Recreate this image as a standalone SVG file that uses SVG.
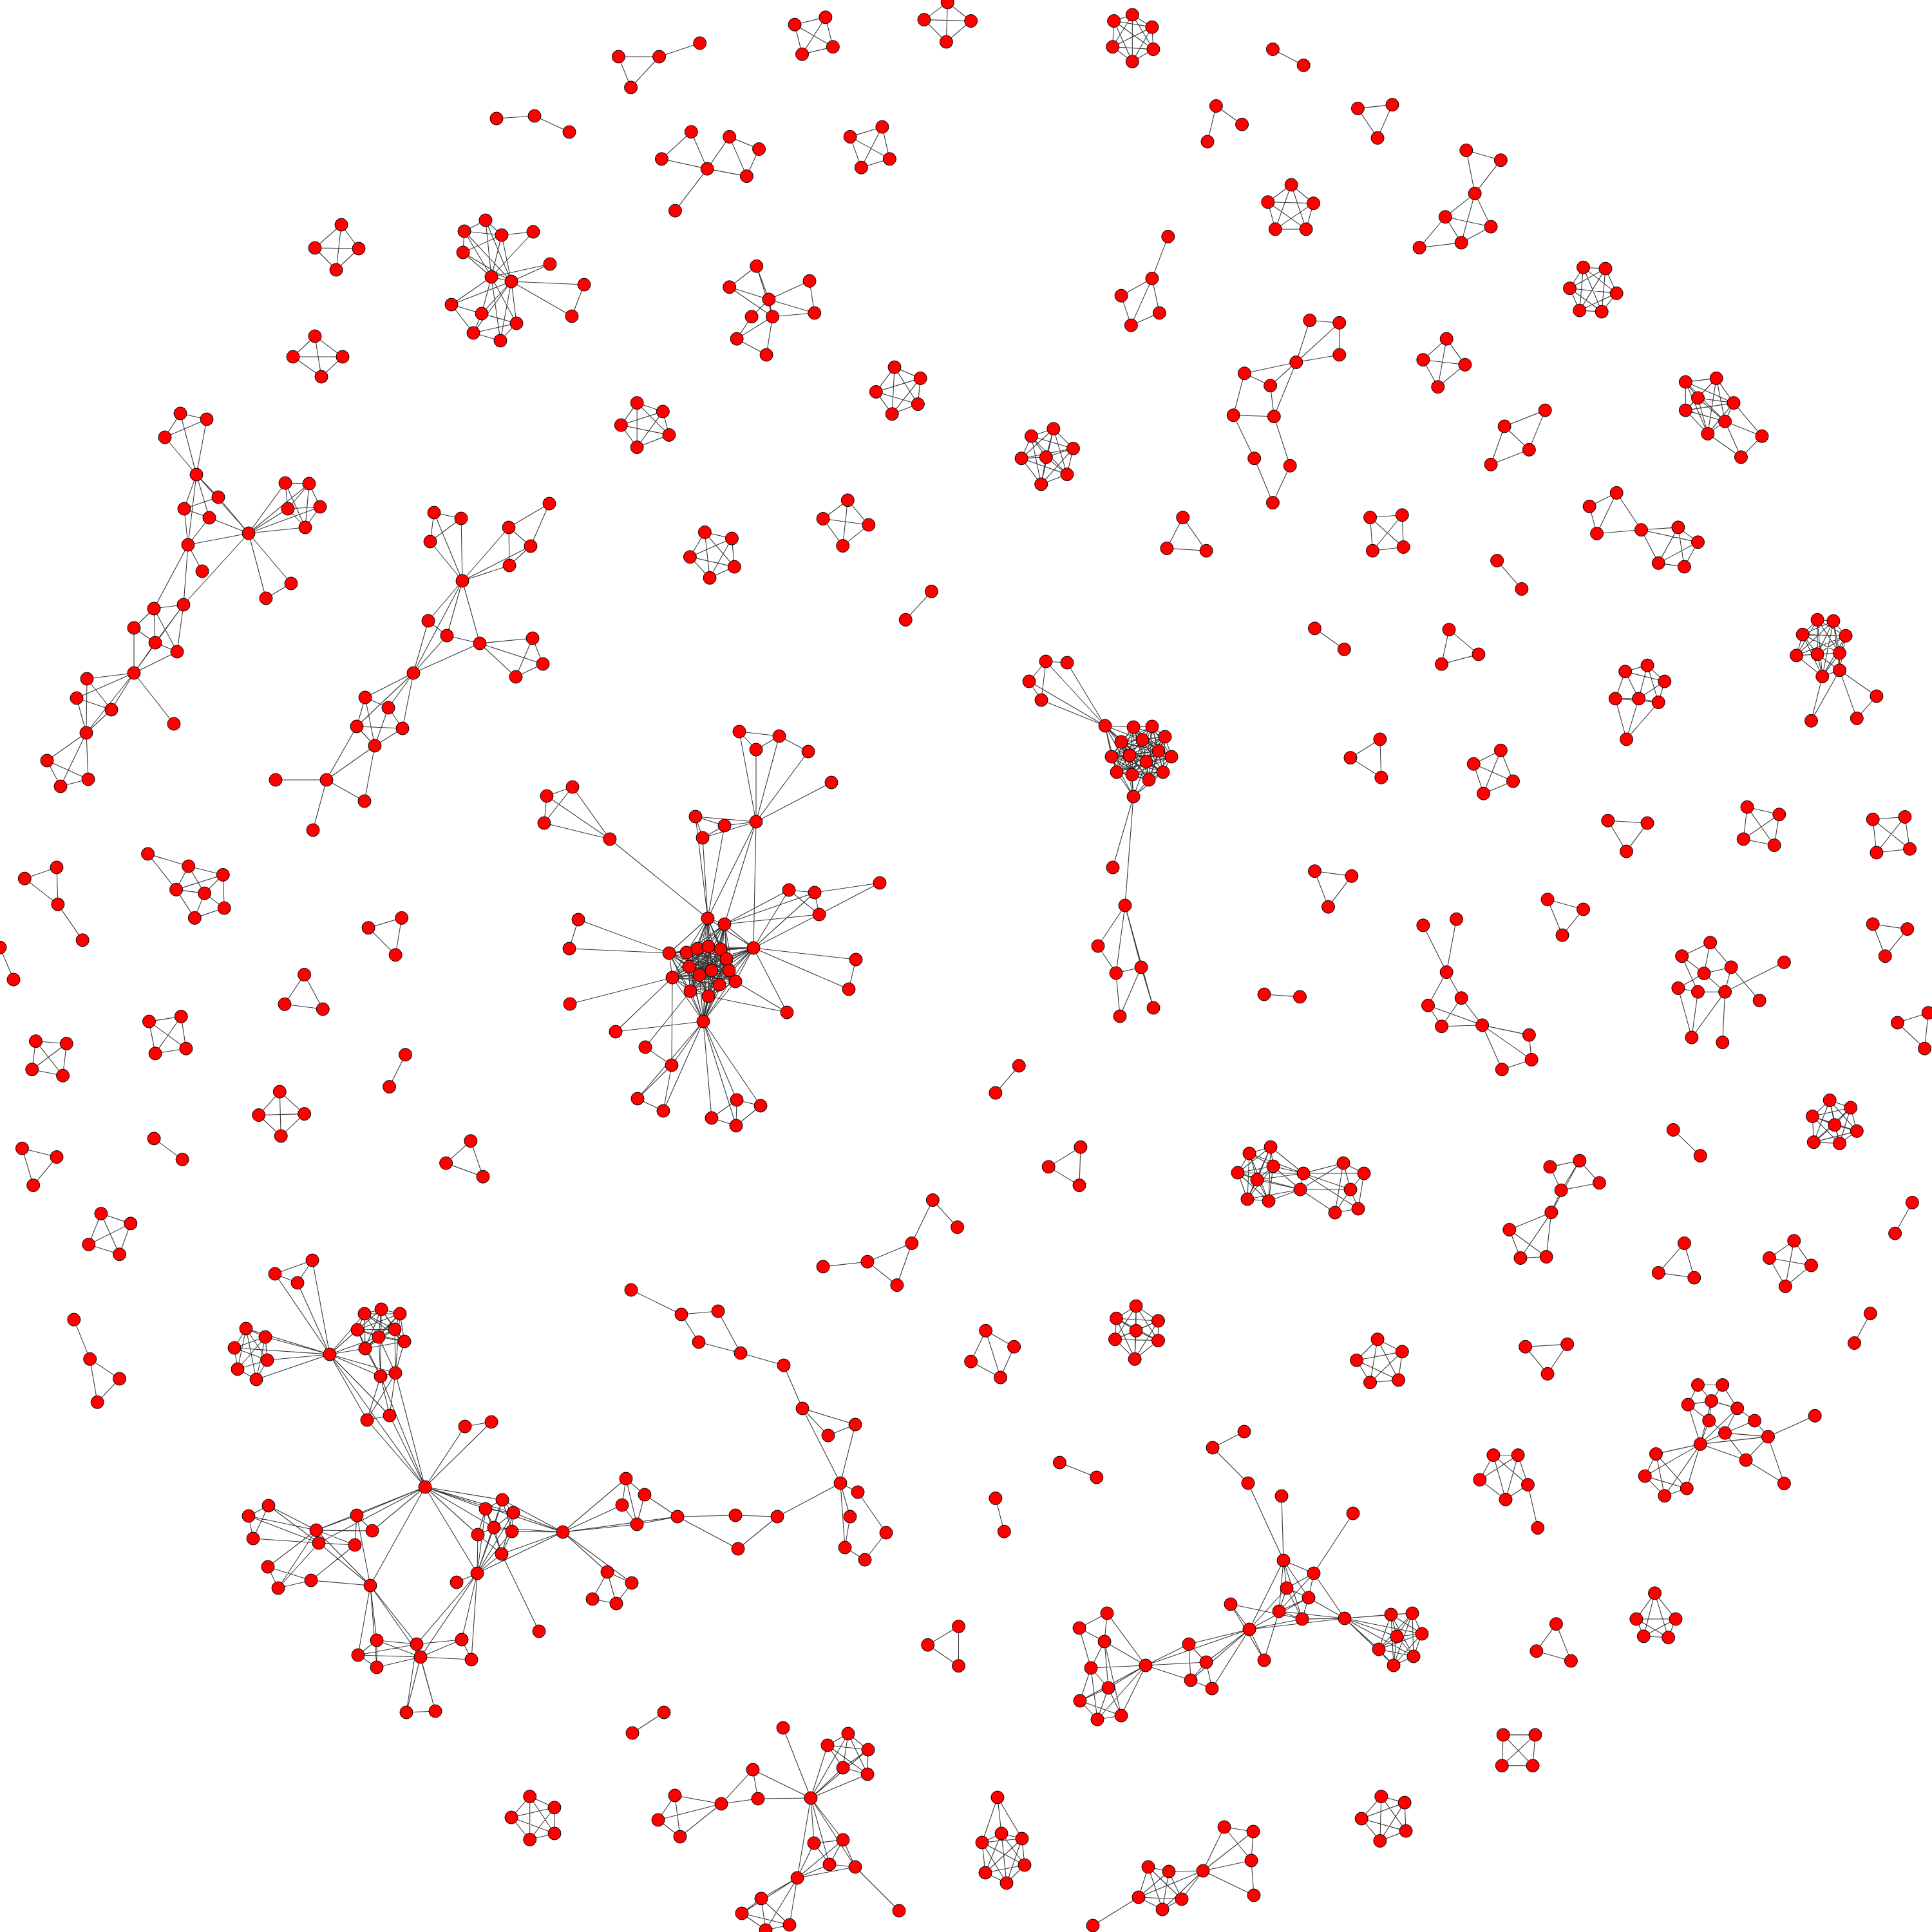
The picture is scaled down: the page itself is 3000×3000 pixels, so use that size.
<svg xmlns="http://www.w3.org/2000/svg" width="3000" height="3000" viewBox="0 0 3000 3000">
<style>
.e path{fill:none;stroke:#3a3a3a;stroke-width:1.1;vector-effect:non-scaling-stroke}
.n circle{fill:#ff0000;stroke:#000;stroke-width:1;vector-effect:non-scaling-stroke}
</style>
<rect width="3000" height="3000" fill="#fff"/>
<g id="connectors" class="e">
<g id="edges-main">
<path d="M754 342L721 359M754 342L779 365M721 359L779 365M721 359L719 392M779 365L719 392M779 365L828 360M754 342L763 430M754 342L794 437M721 359L763 430M721 359L794 437M779 365L763 430M779 365L794 437M719 392L763 430M719 392L794 437M828 360L763 430M854 410L763 430M854 410L794 437M794 437L907 442M794 437L888 491M907 442L888 491M763 430L794 437M701 473L763 430M701 473L794 437M701 473L748 487M701 473L735 517M748 487L763 430M748 487L794 437M748 487L802 502M748 487L735 517M802 502L763 430M802 502L794 437M802 502L735 517M735 517L777 529M777 529L802 502M735 517L794 437M777 529L763 430M777 529L794 437"/>
<path d="M530 349L489 385M530 349L557 386M530 349L522 419M489 385L557 386M489 385L522 419M557 386L522 419M489 522L455 554M489 522L532 554M489 522L499 585M455 554L532 554M455 554L499 585M532 554L499 585M771 184L830 180L884 205"/>
<path d="M280 642L321 651M280 642L256 679M321 651L256 679M280 642L305 737M321 651L305 737M256 679L305 737M305 737L339 772M305 737L286 790M305 737L325 804M305 737L292 846M305 737L386 828M339 772L286 790M286 790L325 804M286 790L292 846M325 804L386 828M339 772L386 828M325 804L292 846M386 828L443 750M386 828L480 751M386 828L447 790M386 828L497 787M386 828L474 819M443 750L480 751M443 750L447 790M443 750L474 819M480 751L447 790M480 751L497 787M480 751L474 819M447 790L497 787M497 787L474 819M447 790L474 819M386 828L292 846M386 828L452 906M386 828L413 929M452 906L413 929M386 828L285 939M292 846L314 887M292 846L285 939M292 846L239 945M285 939L239 945M285 939L241 998M285 939L275 1012M239 945L208 975M239 945L241 998M239 945L275 1012M208 975L241 998M208 975L208 1045M241 998L275 1012M241 998L208 1045M275 1012L208 1045M285 939L208 1045M208 1045L135 1054M208 1045L119 1084M208 1045L173 1102M208 1045L134 1138M208 1045L270 1124M135 1054L173 1102M135 1054L134 1138M119 1084L173 1102M119 1084L134 1138M173 1102L134 1138M134 1138L73 1181M134 1138L137 1210M134 1138L94 1221M73 1181L137 1210M73 1181L94 1221M137 1210L94 1221"/>
<path d="M674 796L716 805M674 796L668 841M716 805L668 841M674 796L718 902M716 805L718 902M668 841L718 902M718 902L790 819M718 902L824 848M718 902L791 878M790 819L853 782M790 819L824 848M790 819L791 878M853 782L824 848M824 848L791 878M718 902L665 964M718 902L694 987M718 902L745 999M718 902L642 1045M665 964L694 987M694 987L745 999M665 964L642 1045M694 987L642 1045M745 999L642 1045M745 999L827 991M745 999L843 1031M745 999L801 1051M827 991L843 1031M843 1031L801 1051M827 991L801 1051M642 1045L567 1083M642 1045L603 1099M642 1045L554 1128M642 1045L625 1131M567 1083L603 1099M567 1083L554 1128M567 1083L582 1158M603 1099L625 1131M603 1099L582 1158M554 1128L625 1131M625 1131L582 1158M554 1128L582 1158M554 1128L507 1211M582 1158L507 1211M582 1158L566 1244M507 1211L428 1211M507 1211L566 1244M507 1211L486 1289"/>
<path d="M1148 1136L1210 1143M1148 1136L1174 1164M1174 1164L1210 1143M1210 1143L1255 1167M1174 1276L1148 1136M1174 1276L1174 1164M1174 1276L1210 1143M1174 1276L1255 1167M1174 1276L1291 1215M1080 1268L1125 1282M1080 1268L1091 1301M1125 1282L1091 1301M1080 1268L1174 1276M1125 1282L1174 1276M1091 1301L1174 1276M889 1222L849 1236M849 1236L845 1278M889 1222L845 1278M889 1222L947 1303M849 1236L947 1303M845 1278L947 1303M947 1303L1099 1426M1080 1268L1099 1426M1091 1301L1099 1426M1125 1282L1099 1426M1174 1276L1099 1426M1174 1276L1125 1435M1174 1276L1170 1472M1099 1426L1125 1435M1099 1426L1170 1472M1125 1435L1170 1472M1125 1435L1225 1382M1125 1435L1265 1386M1125 1435L1272 1420M1170 1472L1225 1382M1170 1472L1265 1386M1170 1472L1272 1420M1225 1382L1265 1386M1225 1382L1272 1420M1265 1386L1272 1420M1265 1386L1366 1371M1272 1420L1366 1371M898 1428L884 1473M898 1428L1039 1480M884 1473L1039 1480M885 1559L1044 1518M1039 1480L1044 1518M1039 1480L1170 1472M1099 1426L1039 1480M1044 1518L1170 1472M1170 1472L1329 1490M1170 1472L1318 1536M1329 1490L1318 1536M1170 1472L1222 1572M1142 1524L1222 1572M1100 1547L1222 1572M1092 1586L956 1602M1044 1518L956 1602M1002 1626L1043 1654M1002 1626L1072 1539M1092 1586L1043 1654M1044 1518L1043 1654M1043 1654L990 1706M1043 1654L1030 1725M990 1706L1030 1725M1092 1586L990 1706M1092 1586L1030 1725M1092 1586L1144 1708M1092 1586L1181 1717M1092 1586L1105 1736M1092 1586L1143 1748M1144 1708L1181 1717M1144 1708L1105 1736M1144 1708L1143 1748M1105 1736L1143 1748M1181 1717L1143 1748M1092 1586L1099 1426M1092 1586L1125 1435M1092 1586L1170 1472M1092 1586L1039 1480M1092 1586L1044 1518"/>
<path d="M1066 1479L1083 1473M1066 1479L1100 1470M1066 1479L1119 1474M1066 1479L1128 1489M1066 1479L1070 1501M1066 1479L1105 1507M1066 1479L1086 1514M1066 1479L1132 1507M1066 1479L1142 1524M1066 1479L1117 1529M1066 1479L1072 1539M1066 1479L1100 1547M1083 1473L1100 1470M1083 1473L1119 1474M1083 1473L1128 1489M1083 1473L1070 1501M1083 1473L1105 1507M1083 1473L1086 1514M1083 1473L1132 1507M1083 1473L1142 1524M1083 1473L1117 1529M1083 1473L1072 1539M1083 1473L1100 1547M1100 1470L1119 1474M1100 1470L1128 1489M1100 1470L1070 1501M1100 1470L1105 1507M1100 1470L1086 1514M1100 1470L1132 1507M1100 1470L1142 1524M1100 1470L1117 1529M1100 1470L1072 1539M1100 1470L1100 1547M1119 1474L1128 1489M1119 1474L1070 1501M1119 1474L1105 1507M1119 1474L1086 1514M1119 1474L1132 1507M1119 1474L1142 1524M1119 1474L1117 1529M1119 1474L1072 1539M1119 1474L1100 1547M1128 1489L1070 1501M1128 1489L1105 1507M1128 1489L1086 1514M1128 1489L1132 1507M1128 1489L1142 1524M1128 1489L1117 1529M1128 1489L1072 1539M1128 1489L1100 1547M1070 1501L1105 1507M1070 1501L1086 1514M1070 1501L1132 1507M1070 1501L1142 1524M1070 1501L1117 1529M1070 1501L1072 1539M1070 1501L1100 1547M1105 1507L1086 1514M1105 1507L1132 1507M1105 1507L1142 1524M1105 1507L1117 1529M1105 1507L1072 1539M1105 1507L1100 1547M1086 1514L1132 1507M1086 1514L1142 1524M1086 1514L1117 1529M1086 1514L1072 1539M1086 1514L1100 1547M1132 1507L1142 1524M1132 1507L1117 1529M1132 1507L1072 1539M1132 1507L1100 1547M1142 1524L1117 1529M1142 1524L1072 1539M1142 1524L1100 1547M1117 1529L1072 1539M1117 1529L1100 1547M1072 1539L1100 1547"/>
<path d="M1099 1426L1066 1479M1099 1426L1083 1473M1099 1426L1100 1470M1099 1426L1119 1474M1099 1426L1128 1489M1099 1426L1070 1501M1099 1426L1105 1507M1099 1426L1086 1514M1099 1426L1132 1507M1099 1426L1142 1524M1099 1426L1117 1529M1099 1426L1072 1539M1099 1426L1100 1547M1125 1435L1066 1479M1125 1435L1083 1473M1125 1435L1100 1470M1125 1435L1119 1474M1125 1435L1128 1489M1125 1435L1070 1501M1125 1435L1105 1507M1125 1435L1086 1514M1125 1435L1132 1507M1125 1435L1142 1524M1125 1435L1117 1529M1125 1435L1072 1539M1125 1435L1100 1547M1170 1472L1066 1479M1170 1472L1083 1473M1170 1472L1100 1470M1170 1472L1119 1474M1170 1472L1128 1489M1170 1472L1070 1501M1170 1472L1105 1507M1170 1472L1086 1514M1170 1472L1132 1507M1170 1472L1142 1524M1170 1472L1117 1529M1170 1472L1072 1539M1170 1472L1100 1547M1039 1480L1066 1479M1039 1480L1083 1473M1039 1480L1100 1470M1039 1480L1119 1474M1039 1480L1128 1489M1039 1480L1070 1501M1039 1480L1105 1507M1039 1480L1086 1514M1039 1480L1132 1507M1039 1480L1142 1524M1039 1480L1117 1529M1039 1480L1072 1539M1039 1480L1100 1547M1044 1518L1066 1479M1044 1518L1083 1473M1044 1518L1100 1470M1044 1518L1119 1474M1044 1518L1128 1489M1044 1518L1070 1501M1044 1518L1105 1507M1044 1518L1086 1514M1044 1518L1132 1507M1044 1518L1142 1524M1044 1518L1117 1529M1044 1518L1072 1539M1044 1518L1100 1547M1092 1586L1066 1479M1092 1586L1083 1473M1092 1586L1100 1470M1092 1586L1119 1474M1092 1586L1128 1489M1092 1586L1070 1501M1092 1586L1105 1507M1092 1586L1086 1514M1092 1586L1132 1507M1092 1586L1142 1524M1092 1586L1117 1529M1092 1586L1072 1539M1092 1586L1100 1547"/>
<path d="M1624 1027L1657 1029M1624 1027L1598 1058M1598 1058L1617 1087M1624 1027L1617 1087M1716 1127L1657 1029M1716 1127L1624 1027M1716 1127L1598 1058M1716 1127L1617 1087M1716 1127L1760 1129M1716 1127L1741 1152M1716 1127L1726 1175M1716 1127L1754 1173M1716 1127L1734 1199M1716 1127L1758 1203M1716 1127L1774 1149M1716 1127L1780 1183M1760 1237L1734 1199M1760 1237L1758 1203M1760 1237L1784 1211M1760 1237L1806 1199M1760 1237L1780 1183M1760 1237L1754 1173M1760 1237L1726 1175M1760 1237L1741 1152M1760 1237L1728 1347M1760 1237L1747 1406M1747 1406L1705 1469M1747 1406L1733 1511M1747 1406L1772 1502M1747 1406L1791 1565M1705 1469L1733 1511M1733 1511L1772 1502M1733 1511L1739 1578M1772 1502L1791 1565M1739 1578L1772 1502"/>
<path d="M1760 1129L1789 1128M1760 1129L1741 1152M1760 1129L1774 1149M1760 1129L1809 1144M1760 1129L1726 1175M1760 1129L1754 1173M1760 1129L1799 1166M1760 1129L1819 1175M1760 1129L1780 1183M1760 1129L1734 1199M1760 1129L1758 1203M1760 1129L1806 1199M1760 1129L1784 1211M1789 1128L1741 1152M1789 1128L1774 1149M1789 1128L1809 1144M1789 1128L1726 1175M1789 1128L1754 1173M1789 1128L1799 1166M1789 1128L1819 1175M1789 1128L1780 1183M1789 1128L1734 1199M1789 1128L1758 1203M1789 1128L1806 1199M1789 1128L1784 1211M1741 1152L1774 1149M1741 1152L1809 1144M1741 1152L1726 1175M1741 1152L1754 1173M1741 1152L1799 1166M1741 1152L1819 1175M1741 1152L1780 1183M1741 1152L1734 1199M1741 1152L1758 1203M1741 1152L1806 1199M1741 1152L1784 1211M1774 1149L1809 1144M1774 1149L1726 1175M1774 1149L1754 1173M1774 1149L1799 1166M1774 1149L1819 1175M1774 1149L1780 1183M1774 1149L1734 1199M1774 1149L1758 1203M1774 1149L1806 1199M1774 1149L1784 1211M1809 1144L1726 1175M1809 1144L1754 1173M1809 1144L1799 1166M1809 1144L1819 1175M1809 1144L1780 1183M1809 1144L1734 1199M1809 1144L1758 1203M1809 1144L1806 1199M1809 1144L1784 1211M1726 1175L1754 1173M1726 1175L1799 1166M1726 1175L1819 1175M1726 1175L1780 1183M1726 1175L1734 1199M1726 1175L1758 1203M1726 1175L1806 1199M1726 1175L1784 1211M1754 1173L1799 1166M1754 1173L1819 1175M1754 1173L1780 1183M1754 1173L1734 1199M1754 1173L1758 1203M1754 1173L1806 1199M1754 1173L1784 1211M1799 1166L1819 1175M1799 1166L1780 1183M1799 1166L1734 1199M1799 1166L1758 1203M1799 1166L1806 1199M1799 1166L1784 1211M1819 1175L1780 1183M1819 1175L1734 1199M1819 1175L1758 1203M1819 1175L1806 1199M1819 1175L1784 1211M1780 1183L1734 1199M1780 1183L1758 1203M1780 1183L1806 1199M1780 1183L1784 1211M1734 1199L1758 1203M1734 1199L1806 1199M1734 1199L1784 1211M1758 1203L1806 1199M1758 1203L1784 1211M1806 1199L1784 1211"/>
<path d="M1973 1781L1940 1791M1973 1781L1977 1811M1973 1781L1922 1821M1973 1781L1952 1832M1973 1781L1937 1862M1973 1781L1970 1865M1940 1791L1977 1811M1940 1791L1922 1821M1940 1791L1952 1832M1940 1791L1937 1862M1940 1791L1970 1865M1977 1811L1922 1821M1977 1811L1952 1832M1977 1811L1937 1862M1977 1811L1970 1865M1922 1821L1952 1832M1922 1821L1937 1862M1922 1821L1970 1865M1952 1832L1937 1862M1952 1832L1970 1865M1937 1862L1970 1865M2024 1822L1973 1781M2024 1822L1940 1791M2024 1822L1977 1811M2024 1822L1922 1821M2024 1822L1952 1832M2019 1847L1977 1811M2019 1847L1922 1821M2019 1847L1952 1832M2019 1847L1937 1862M2019 1847L1970 1865M2024 1822L2019 1847M2024 1822L2086 1806M2024 1822L2118 1822M2024 1822L2097 1847M2019 1847L2097 1847M2019 1847L2086 1806M2019 1847L2073 1883M2024 1822L2109 1877M2086 1806L2118 1822M2086 1806L2097 1847M2086 1806L2073 1883M2118 1822L2097 1847M2118 1822L2109 1877M2097 1847L2073 1883M2097 1847L2109 1877M2073 1883L2109 1877"/>
<path d="M1031 2659L982 2691M1048 2788L1120 2801M1048 2788L1022 2826M1048 2788L1056 2852M1022 2826L1056 2852M1022 2826L1120 2801M1056 2852L1120 2801M1120 2801L1169 2748M1120 2801L1177 2793M1169 2748L1177 2793M1169 2748L1259 2792M1177 2793L1259 2792M1216 2683L1259 2792M1259 2792L1285 2710M1259 2792L1317 2692M1259 2792L1309 2745M1259 2792L1348 2717M1259 2792L1347 2755M1317 2692L1285 2710M1317 2692L1348 2717M1317 2692L1309 2745M1317 2692L1347 2755M1285 2710L1348 2717M1285 2710L1309 2745M1285 2710L1347 2755M1348 2717L1309 2745M1348 2717L1347 2755M1309 2745L1347 2755M1259 2792L1264 2862M1259 2792L1309 2857M1259 2792L1288 2895M1259 2792L1328 2899M1259 2792L1238 2916M1264 2862L1309 2857M1264 2862L1288 2895M1309 2857L1288 2895M1309 2857L1328 2899M1288 2895L1328 2899M1264 2862L1238 2916M1309 2857L1238 2916M1288 2895L1238 2916M1328 2899L1238 2916M1328 2899L1396 2967M1238 2916L1182 2948M1238 2916L1152 2971M1238 2916L1226 2989M1238 2916L1189 2997M1182 2948L1152 2971M1182 2948L1226 2989M1182 2948L1189 2997M1152 2971L1226 2989M1152 2971L1189 2997M1226 2989L1189 2997"/>
<path d="M1549 2791L1525 2861M1549 2791L1555 2847M1549 2791L1587 2855M1525 2861L1555 2847M1525 2861L1587 2855M1525 2861L1530 2908M1525 2861L1591 2896M1525 2861L1563 2924M1555 2847L1587 2855M1555 2847L1530 2908M1555 2847L1591 2896M1555 2847L1563 2924M1587 2855L1530 2908M1587 2855L1591 2896M1587 2855L1563 2924M1530 2908L1591 2896M1530 2908L1563 2924M1591 2896L1563 2924M1783 2899L1815 2906M1783 2899L1768 2946M1783 2899L1805 2965M1783 2899L1835 2949M1815 2906L1868 2905M1815 2906L1768 2946M1815 2906L1805 2965M1815 2906L1835 2949M1768 2946L1835 2949M1768 2946L1805 2965M1768 2946L1868 2905M1835 2949L1805 2965M1835 2949L1868 2905M1805 2965L1868 2905M1768 2946L1697 2990M1868 2905L1901 2837M1868 2905L1946 2844M1868 2905L1943 2889M1868 2905L1947 2943M1901 2837L1946 2844M1901 2837L1943 2889M1946 2844L1943 2889M1943 2889L1947 2943"/>
<path d="M1883 2248L1932 2223M1883 2248L1938 2303M1938 2303L1993 2423M1990 2323L1993 2423M2101 2350L2040 2443M1993 2423L2040 2443M1993 2423L1998 2466M1993 2423L2032 2481M1993 2423L1986 2502M1993 2423L1940 2530M1993 2423L2022 2514M2040 2443L1998 2466M2040 2443L2032 2481M2040 2443L1986 2502M2040 2443L2088 2513M1998 2466L2032 2481M1998 2466L1986 2502M1998 2466L2022 2514M2032 2481L1986 2502M2032 2481L2022 2514M1986 2502L2022 2514M1986 2502L2088 2513M2022 2514L2088 2513M2032 2481L2088 2513M2022 2514L1940 2530M1998 2466L1940 2530M2032 2481L1940 2530M1911 2491L1940 2530M1911 2491L2022 2514M1911 2491L1963 2578M1940 2530L1963 2578M1963 2578L1986 2502M1940 2530L2088 2513M1940 2530L1846 2553M1940 2530L1873 2581M1940 2530L1882 2622M1940 2530L1779 2586M1940 2530L1849 2609M1846 2553L1873 2581M1846 2553L1849 2609M1873 2581L1849 2609M1873 2581L1882 2622M1849 2609L1882 2622M1846 2553L1779 2586M1849 2609L1779 2586M1873 2581L1779 2586M1779 2586L1719 2505M1779 2586L1715 2549M1779 2586L1721 2621M1779 2586L1677 2641M1779 2586L1704 2670M1779 2586L1741 2664M1779 2586L1694 2590M1719 2505L1676 2528M1719 2505L1715 2549M1676 2528L1715 2549M1676 2528L1694 2590M1715 2549L1694 2590M1715 2549L1721 2621M1694 2590L1721 2621M1715 2549L1741 2664M1694 2590L1677 2641M1721 2621L1677 2641M1721 2621L1704 2670M1721 2621L1741 2664M1677 2641L1704 2670M1677 2641L1741 2664M1704 2670L1741 2664M1694 2590L1704 2670M2088 2513L2160 2507M2088 2513L2169 2541M2088 2513L2141 2561M2088 2513L2195 2572M2088 2513L2164 2586M2088 2513L2208 2537M2088 2513L2193 2505M2160 2507L2193 2505M2160 2507L2169 2541M2160 2507L2208 2537M2160 2507L2141 2561M2160 2507L2195 2572M2160 2507L2164 2586M2193 2505L2169 2541M2193 2505L2208 2537M2193 2505L2141 2561M2193 2505L2195 2572M2193 2505L2164 2586M2169 2541L2208 2537M2169 2541L2141 2561M2169 2541L2195 2572M2169 2541L2164 2586M2208 2537L2141 2561M2208 2537L2195 2572M2208 2537L2164 2586M2141 2561L2195 2572M2141 2561L2164 2586M2195 2572L2164 2586"/>
<path d="M485 1957L427 1978M427 1978L462 1992M485 1957L462 1992M485 1957L512 2103M427 1978L512 2103M462 1992L512 2103M382 2063L412 2076M382 2063L364 2093M382 2063L369 2126M382 2063L398 2142M412 2076L364 2093M412 2076L415 2112M412 2076L369 2126M412 2076L398 2142M364 2093L415 2112M364 2093L369 2126M415 2112L369 2126M415 2112L398 2142M369 2126L398 2142M382 2063L415 2112M512 2103L382 2063M512 2103L412 2076M512 2103L364 2093M512 2103L415 2112M512 2103L398 2142M566 2040L592 2033M566 2040L621 2040M566 2040L555 2065M566 2040L613 2064M566 2040L588 2076M566 2040L628 2083M566 2040L567 2094M592 2033L621 2040M592 2033L555 2065M592 2033L613 2064M592 2033L588 2076M592 2033L628 2083M592 2033L567 2094M621 2040L555 2065M621 2040L613 2064M621 2040L588 2076M621 2040L628 2083M621 2040L567 2094M555 2065L613 2064M555 2065L588 2076M555 2065L628 2083M555 2065L567 2094M613 2064L588 2076M613 2064L628 2083M613 2064L567 2094M588 2076L628 2083M588 2076L567 2094M628 2083L567 2094M591 2137L555 2065M591 2137L588 2076M591 2137L567 2094M591 2137L592 2033M614 2132L613 2064M614 2132L628 2083M614 2132L588 2076M614 2132L621 2040M591 2137L614 2132M512 2103L566 2040M512 2103L555 2065M512 2103L567 2094M512 2103L588 2076M512 2103L591 2137M512 2103L614 2132M512 2103L570 2205M512 2103L605 2198M512 2103L660 2309M591 2137L570 2205M614 2132L605 2198M591 2137L605 2198M614 2132L570 2205M570 2205L605 2198M570 2205L660 2309M605 2198L660 2309M591 2137L660 2309M614 2132L660 2309M660 2309L722 2215M660 2309L763 2208M722 2215L763 2208"/>
<path d="M660 2309L780 2329M660 2309L754 2343M660 2309L797 2349M660 2309L767 2372M660 2309L742 2383M660 2309L874 2379M660 2309L741 2443M660 2309L575 2462M660 2309L491 2376M660 2309L554 2353M660 2309L495 2396M660 2309L578 2377M417 2338L386 2354M386 2354L393 2389M417 2338L393 2389M417 2338L491 2376M386 2354L491 2376M386 2354L495 2396M393 2389L495 2396M491 2376L495 2396M491 2376L554 2353M491 2376L578 2377M491 2376L551 2399M495 2396L551 2399M554 2353L578 2377M554 2353L551 2399M416 2433L491 2376M416 2433L432 2466M416 2433L483 2454M483 2454L432 2466M432 2466L491 2376M432 2466L495 2396M483 2454L551 2399M483 2454L575 2462M495 2396L575 2462M491 2376L575 2462M554 2353L575 2462M417 2338L495 2396M575 2462L585 2547M575 2462L556 2570M575 2462L647 2553M575 2462L653 2573M575 2462L585 2589M647 2553L585 2547M647 2553L717 2546M647 2553L556 2570M647 2553L653 2573M585 2547L556 2570M585 2547L585 2589M556 2570L653 2573M556 2570L585 2589M585 2589L653 2573M717 2546L653 2573M653 2573L732 2577M717 2546L732 2577M653 2573L631 2659M653 2573L676 2657M647 2553L631 2659M631 2659L676 2657M585 2547L653 2573M647 2553L676 2657M741 2443L653 2573M741 2443L647 2553M741 2443L717 2546M741 2443L732 2577M741 2443L709 2457M741 2443L780 2329M741 2443L754 2343M741 2443L797 2349M741 2443L767 2372M741 2443L795 2378M741 2443L742 2383M741 2443L779 2413M741 2443L874 2379M780 2329L754 2343M780 2329L797 2349M780 2329L767 2372M780 2329L795 2378M754 2343L797 2349M754 2343L767 2372M754 2343L742 2383M754 2343L779 2413M797 2349L767 2372M797 2349L795 2378M797 2349L779 2413M767 2372L795 2378M767 2372L742 2383M767 2372L779 2413M795 2378L779 2413M742 2383L779 2413M779 2413L837 2533M874 2379L780 2329M874 2379L797 2349M874 2379L767 2372M874 2379L795 2378M874 2379L779 2413M874 2379L972 2296M874 2379L966 2337M874 2379L989 2367M874 2379L1052 2355M972 2296L1001 2321M972 2296L966 2337M966 2337L989 2367M1001 2321L989 2367M972 2296L989 2367M1001 2321L1052 2355M989 2367L1052 2355M874 2379L943 2441M874 2379L981 2458M943 2441L920 2483M943 2441L957 2490M943 2441L981 2458M920 2483L957 2490M957 2490L981 2458M1052 2355L1142 2353M1052 2355L1146 2405M1142 2353L1207 2355M1146 2405L1207 2355M1207 2355L1305 2303M980 2003L1058 2041M1058 2041L1115 2036M1058 2041L1085 2084M1115 2036L1150 2101M1085 2084L1150 2101M1150 2101L1217 2120M1217 2120L1246 2187M1246 2187L1286 2229M1246 2187L1328 2212M1286 2229L1328 2212M1246 2187L1305 2303M1328 2212L1305 2303M1305 2303L1332 2317M1305 2303L1320 2355M1332 2317L1376 2380M1320 2355L1312 2403M1343 2422L1376 2380M1305 2303L1312 2403M1312 2403L1343 2422"/>
</g>
<g id="edges-small" transform="scale(1.91327)">
<path d="M502 46L535 46M502 46L512 71M512 71L535 46M535 46L568 35M645 20L670 14M645 20L676 38M645 20L651 44M670 14L676 38M670 14L651 44M676 38L651 44M750 16L769 2M750 16L788 17M750 16L768 34M769 2L788 17M769 2L768 34M788 17L768 34M904 17L919 12M904 17L935 22M904 17L903 38M904 17L919 50M904 17L936 40M919 12L935 22M919 12L903 38M919 12L919 50M919 12L936 40M935 22L903 38M935 22L919 50M935 22L936 40M903 38L919 50M903 38L936 40M919 50L936 40M1033 40L1058 53M1102 88L1130 85M1102 88L1118 112M1130 85L1118 112M987 86L1008 101M987 86L980 115"/>
<path d="M561 107L537 129M561 107L574 137M592 111L574 137M592 111L616 121M592 111L606 143M537 129L574 137M574 137L606 143M616 121L606 143M574 137L548 171M690 111L716 103M690 111L722 129M690 111L699 136M716 103L722 129M716 103L699 136M722 129L699 136M1048 150L1029 164M1048 150L1066 165M1048 150L1035 186M1048 150L1060 186M1029 164L1066 165M1029 164L1035 186M1029 164L1060 186M1066 165L1035 186M1066 165L1060 186M1035 186L1060 186M1190 122L1218 130M1190 122L1197 157M1218 130L1197 157M1197 157L1173 176M1197 157L1210 184M1197 157L1186 197M1173 176L1186 197M1173 176L1152 201M1210 184L1186 197M1152 201L1186 197M1173 176L1210 184"/>
<path d="M1285 217L1303 218M1285 217L1274 234M1285 217L1312 238M1285 217L1282 252M1285 217L1300 253M1303 218L1274 234M1303 218L1312 238M1303 218L1282 252M1303 218L1300 253M1274 234L1312 238M1274 234L1282 252M1274 234L1300 253M1312 238L1282 252M1312 238L1300 253M1282 252L1300 253M614 216L592 233M614 216L624 243M614 216L627 257M592 233L624 243M592 233L627 257M624 243L657 228M624 243L661 254M657 228L661 254M627 257L661 254M624 243L627 257M627 257L598 275M627 257L622 288M598 275L610 257M610 257L624 243M598 275L622 288M726 298L747 307M726 298L711 318M726 298L745 328M726 298L724 336M747 307L711 318M747 307L745 328M747 307L724 336M711 318L745 328M711 318L724 336M745 328L724 336M517 327L538 334M517 327L504 345M517 327L543 353M517 327L517 363M538 334L504 345M538 334L543 353M538 334L517 363M504 345L543 353M504 345L517 363M543 353L517 363"/>
<path d="M837 354L855 348M837 354L829 372M837 354L849 371M837 354L871 364M837 354L866 385M837 354L845 393M855 348L829 372M855 348L849 371M855 348L871 364M855 348L866 385M855 348L845 393M829 372L849 371M829 372L871 364M829 372L866 385M829 372L845 393M849 371L871 364M849 371L866 385M849 371L845 393M871 364L866 385M871 364L845 393M866 385L845 393M668 421L688 406M668 421L705 426M668 421L684 443M688 406L705 426M688 406L684 443M705 426L684 443M572 432L594 437M572 432L560 452M572 432L596 460M572 432L576 469M594 437L560 452M594 437L596 460M594 437L576 469M560 452L596 460M560 452L576 469M596 460L576 469M948 192L935 226M935 226L910 240M935 226L918 264M935 226L941 254M910 240L918 264M918 264L941 254M1155 292L1174 275M1155 292L1189 296M1155 292L1167 314M1174 275L1189 296M1174 275L1167 314M1189 296L1167 314"/>
<path d="M1063 260L1087 262M1063 260L1052 294M1087 262L1052 294M1087 262L1087 288M1052 294L1087 288M1052 294L1010 303M1052 294L1031 313M1052 294L1034 338M1010 303L1031 313M1010 303L1001 337M1031 313L1034 338M1001 337L1034 338M1001 337L1018 372M1034 338L1047 378M1047 378L1033 408M1018 372L1033 408M1254 333L1221 346M1254 333L1241 365M1221 346L1241 365M1241 365L1210 377M1221 346L1210 377M1368 310L1393 307M1368 310L1378 323M1368 310L1407 327M1368 310L1368 333M1368 310L1400 342M1368 310L1386 352M1393 307L1378 323M1393 307L1407 327M1393 307L1368 333M1393 307L1400 342M1393 307L1386 352M1378 323L1407 327M1378 323L1368 333M1378 323L1400 342M1378 323L1386 352M1407 327L1368 333M1407 327L1400 342M1407 327L1386 352M1368 333L1400 342M1368 333L1386 352M1400 342L1386 352M1430 354L1407 327M1430 354L1400 342M1413 371L1400 342M1413 371L1386 352M1430 354L1413 371M1290 411L1312 400M1312 400L1296 433M1290 411L1296 433M1312 400L1332 430M1296 433L1332 430M1332 430L1362 428M1332 430L1346 457M1332 430L1378 440M1362 428L1378 440M1362 428L1346 457M1362 428L1367 460M1346 457L1367 460M1378 440L1367 460M1346 457L1378 440"/>
<path d="M960 420L947 445M947 445L979 447M960 420L979 447M1112 420L1138 418M1112 420L1114 447M1112 420L1139 444M1138 418L1114 447M1138 418L1139 444M1114 447L1139 444M1215 455L1235 478M1067 510L1091 527M1176 511L1200 531M1176 511L1170 539M1170 539L1200 531M735 503L756 480M1120 600L1096 615M1096 615L1121 631M1120 600L1121 631M1218 609L1196 620M1218 609L1228 634M1218 609L1204 644M1196 620L1204 644M1228 634L1204 644M1196 620L1228 634M1305 666L1337 668M1305 666L1320 691M1337 668L1320 691M1418 655L1444 661M1418 655L1415 681M1418 655L1440 686M1444 661L1415 681M1444 661L1440 686M1415 681L1440 686M1520 665L1546 663M1520 665L1523 692M1520 665L1550 689M1546 663L1523 692M1546 663L1550 689M1523 692L1550 689M1319 545L1337 540M1337 540L1351 553M1319 545L1351 553M1319 545L1311 567M1319 545L1330 567M1337 540L1330 567M1337 540L1346 570M1351 553L1346 570M1351 553L1330 567M1311 567L1330 567M1330 567L1346 570M1311 567L1320 600M1330 567L1320 600M1346 570L1320 600M1311 567L1346 570"/>
<path d="M1463 515L1475 503M1463 515L1488 504M1463 515L1498 516M1463 515L1458 532M1463 515L1475 531M1463 515L1493 530M1463 515L1479 549M1475 503L1488 504M1475 503L1498 516M1475 503L1458 532M1475 503L1475 531M1475 503L1493 530M1475 503L1479 549M1488 504L1498 516M1488 504L1458 532M1488 504L1475 531M1488 504L1493 530M1488 504L1479 549M1498 516L1458 532M1498 516L1475 531M1498 516L1493 530M1498 516L1479 549M1458 532L1475 531M1458 532L1493 530M1458 532L1479 549M1475 531L1493 530M1475 531L1479 549M1493 530L1479 549M1493 544L1498 516M1493 544L1493 530M1493 544L1475 531M1493 544L1479 549M1493 544L1488 504M1493 544L1523 565M1493 544L1470 585M1493 544L1507 583M1479 549L1470 585M1523 565L1507 583M1256 730L1285 738M1256 730L1268 759M1285 738L1268 759M1067 707L1097 711M1067 707L1078 736M1097 711L1078 736M1155 751L1174 789M1182 746L1174 789M1174 789L1159 816M1174 789L1186 810M1159 816L1170 833M1186 810L1170 833M1186 810L1203 832M1170 833L1203 832M1159 816L1203 832M1203 832L1219 868M1203 832L1241 840M1219 868L1243 860M1241 840L1243 860M1203 832L1243 860M1026 807L1055 809"/>
<path d="M1365 776L1388 765M1365 776L1383 790M1388 765L1383 790M1388 765L1405 785M1383 790L1405 785M1362 802L1378 805M1362 802L1383 790M1378 805L1400 805M1383 790L1400 805M1405 785L1400 805M1405 785L1428 812M1400 805L1448 781M1378 805L1373 842M1400 805L1398 846M1362 802L1373 842M1400 805L1373 842M1365 776L1378 805M1520 750L1548 754M1520 750L1530 776M1548 754L1530 776M1540 830L1565 822M1540 830L1562 851M1565 822L1562 851M1471 906L1485 893M1471 906L1502 899M1471 906L1507 918M1471 906L1493 928M1471 906L1472 927M1471 906L1489 913M1485 893L1502 899M1485 893L1507 918M1485 893L1493 928M1485 893L1472 927M1485 893L1489 913M1502 899L1507 918M1502 899L1493 928M1502 899L1472 927M1502 899L1489 913M1507 918L1493 928M1507 918L1472 927M1507 918L1489 913M1493 928L1472 927M1493 928L1489 913M1472 927L1489 913M1358 917L1380 938M1258 947L1282 942M1258 947L1267 966M1282 942L1267 966M1282 942L1298 960M1267 966L1298 960M1267 966L1259 984M1282 942L1259 984M1259 984L1225 998M1259 984L1234 1021M1259 984L1255 1020M1225 998L1234 1021M1225 998L1255 1020M1234 1021L1255 1020M1367 1009L1346 1033M1346 1033L1375 1037M1367 1009L1375 1037M1456 1007L1436 1021M1456 1007L1470 1027M1456 1007L1449 1044M1436 1021L1470 1027M1436 1021L1449 1044M1470 1027L1449 1044M1552 976L1538 1001M1505 1090L1518 1066M1238 1093L1272 1091M1238 1093L1256 1115M1272 1091L1256 1115"/>
<path d="M1118 1087L1101 1104M1118 1087L1138 1097M1118 1087L1112 1122M1118 1087L1135 1120M1101 1104L1138 1097M1101 1104L1112 1122M1101 1104L1135 1120M1138 1097L1112 1122M1138 1097L1135 1120M1112 1122L1135 1120M1378 1124L1398 1124M1378 1124L1370 1140M1378 1124L1389 1137M1398 1124L1389 1137M1398 1124L1410 1143M1370 1140L1389 1137M1370 1140L1387 1153M1389 1137L1387 1153M1389 1137L1410 1143M1410 1143L1424 1153M1410 1143L1400 1163M1387 1153L1400 1163M1424 1153L1400 1163M1424 1153L1435 1166M1400 1163L1435 1166M1380 1172L1370 1140M1380 1172L1389 1137M1380 1172L1387 1153M1380 1172L1400 1163M1380 1172L1410 1143M1380 1172L1435 1166M1380 1172L1417 1185M1435 1166L1473 1149M1435 1166L1417 1185M1435 1166L1448 1204M1417 1185L1448 1204M1400 1163L1417 1185M1380 1172L1344 1180M1380 1172L1335 1198M1380 1172L1351 1214M1380 1172L1369 1208M1344 1180L1335 1198M1344 1180L1351 1214M1335 1198L1351 1214M1335 1198L1369 1208M1351 1214L1369 1208M1344 1180L1369 1208M1212 1181L1232 1181M1212 1181L1201 1201M1212 1181L1222 1217M1232 1181L1240 1205M1232 1181L1222 1217M1201 1201L1222 1217M1240 1205L1222 1217M1240 1205L1248 1240M1212 1181L1240 1205M1201 1201L1232 1181M1343 1293L1328 1314M1343 1293L1360 1314M1343 1293L1334 1328M1343 1293L1354 1329M1328 1314L1360 1314M1328 1314L1334 1328M1328 1314L1354 1329M1360 1314L1334 1328M1360 1314L1354 1329M1334 1328L1354 1329M1263 1318L1247 1340M1247 1340L1275 1348M1263 1318L1275 1348M1220 1408L1246 1408M1220 1408L1219 1433M1220 1408L1244 1433M1246 1408L1219 1433M1246 1408L1244 1433M1219 1433L1244 1433"/>
<path d="M1121 1458L1140 1463M1121 1458L1105 1476M1121 1458L1141 1486M1121 1458L1120 1494M1140 1463L1105 1476M1140 1463L1141 1486M1140 1463L1120 1494M1105 1476L1141 1486M1105 1476L1120 1494M1141 1486L1120 1494M430 1458L415 1475M430 1458L450 1467M430 1458L430 1493M430 1458L450 1488M415 1475L450 1467M415 1475L430 1493M415 1475L450 1488M450 1467L430 1493M450 1467L450 1488M430 1493L450 1488M860 1187L890 1199M808 1216L815 1243M753 1335L778 1320M753 1335L778 1352M778 1320L778 1352M800 1080L823 1093M800 1080L788 1105M800 1080L812 1118M823 1093L812 1118M788 1105L812 1118M922 1060L906 1070M922 1060L940 1072M922 1060L905 1087M922 1060L940 1088M922 1060L921 1103M922 1060L922 1080M906 1070L940 1072M906 1070L905 1087M906 1070L940 1088M906 1070L921 1103M906 1070L922 1080M940 1072L905 1087M940 1072L940 1088M940 1072L921 1103M940 1072L922 1080M905 1087L940 1088M905 1087L921 1103M905 1087L922 1080M940 1088L921 1103M940 1088L922 1080M921 1103L922 1080M877 931L851 947M851 947L876 962M877 931L876 962M808 887L827 865M757 974L777 996M757 974L740 1009M740 1009L704 1024M740 1009L728 1043M704 1024L668 1028M704 1024L728 1043"/>
<path d="M60 1071L73 1103M73 1103L97 1119M73 1103L79 1138M97 1119L79 1138M82 985L106 993M82 985L72 1010M82 985L97 1018M106 993L72 1010M106 993L97 1018M72 1010L97 1018M18 932L46 939M18 932L27 962M46 939L27 962M125 924L148 941M227 886L210 905M227 886L247 904M227 886L228 922M210 905L228 922M247 904L228 922M210 905L247 904M382 926L362 944M362 944L392 955M382 926L392 955M329 856L316 882M121 829L147 825M121 829L126 855M147 825L151 851M126 855L151 851M121 829L151 851M147 825L126 855M29 845L54 847M29 845L26 868M29 845L51 873M54 847L26 868M54 847L51 873M26 868L51 873M0 769L11 795M20 713L46 704M20 713L47 734M46 704L47 734M47 734L67 763M120 693L143 722M120 693L153 703M153 703L143 722M153 703L166 725M153 703L181 710M143 722L166 725M143 722L158 745M166 725L181 710M166 725L158 745M166 725L182 737M181 710L182 737M158 745L182 737M143 722L181 710M299 753L326 745M299 753L321 775M326 745L321 775M247 791L231 815M231 815L262 819M247 791L262 819"/>
</g>
</g>
<g id="nodes" class="n">
<g id="nodes-main">
<g id="tl1"><circle cx="754" cy="342" r="10"/></g><g id="tl2"><circle cx="721" cy="359" r="10"/></g><g id="tl3"><circle cx="779" cy="365" r="10"/></g><g id="tl4"><circle cx="828" cy="360" r="10"/></g><g id="tl5"><circle cx="719" cy="392" r="10"/></g><g id="tl6"><circle cx="763" cy="430" r="10"/></g><g id="tl7"><circle cx="794" cy="437" r="10"/></g><g id="tl8"><circle cx="854" cy="410" r="10"/></g><g id="tl9"><circle cx="907" cy="442" r="10"/></g><g id="tl10"><circle cx="888" cy="491" r="10"/></g><g id="tl11"><circle cx="701" cy="473" r="10"/></g><g id="tl12"><circle cx="748" cy="487" r="10"/></g><g id="tl13"><circle cx="802" cy="502" r="10"/></g><g id="tl14"><circle cx="735" cy="517" r="10"/></g><g id="tl15"><circle cx="777" cy="529" r="10"/></g>
<g id="ka1"><circle cx="530" cy="349" r="10"/></g><g id="ka2"><circle cx="489" cy="385" r="10"/></g><g id="ka3"><circle cx="557" cy="386" r="10"/></g><g id="ka4"><circle cx="522" cy="419" r="10"/></g>
<g id="kb1"><circle cx="489" cy="522" r="10"/></g><g id="kb2"><circle cx="455" cy="554" r="10"/></g><g id="kb3"><circle cx="532" cy="554" r="10"/></g><g id="kb4"><circle cx="499" cy="585" r="10"/></g>
<g id="pa1"><circle cx="771" cy="184" r="10"/></g><g id="pa2"><circle cx="830" cy="180" r="10"/></g><g id="pa3"><circle cx="884" cy="205" r="10"/></g>
<g id="lc1"><circle cx="280" cy="642" r="10"/></g><g id="lc2"><circle cx="321" cy="651" r="10"/></g><g id="lc3"><circle cx="256" cy="679" r="10"/></g><g id="lc4"><circle cx="305" cy="737" r="10"/></g><g id="lc5"><circle cx="339" cy="772" r="10"/></g><g id="lc6"><circle cx="286" cy="790" r="10"/></g><g id="lc7"><circle cx="325" cy="804" r="10"/></g><g id="lc8"><circle cx="386" cy="828" r="10"/></g><g id="lc9"><circle cx="443" cy="750" r="10"/></g><g id="lc10"><circle cx="480" cy="751" r="10"/></g><g id="lc11"><circle cx="447" cy="790" r="10"/></g><g id="lc12"><circle cx="497" cy="787" r="10"/></g><g id="lc13"><circle cx="474" cy="819" r="10"/></g><g id="lc14"><circle cx="292" cy="846" r="10"/></g><g id="lc15"><circle cx="314" cy="887" r="10"/></g><g id="lc16"><circle cx="452" cy="906" r="10"/></g><g id="lc17"><circle cx="413" cy="929" r="10"/></g><g id="lc18"><circle cx="285" cy="939" r="10"/></g><g id="lc19"><circle cx="239" cy="945" r="10"/></g><g id="lc20"><circle cx="208" cy="975" r="10"/></g><g id="lc21"><circle cx="241" cy="998" r="10"/></g><g id="lc22"><circle cx="275" cy="1012" r="10"/></g><g id="lc23"><circle cx="208" cy="1045" r="10"/></g><g id="lc24"><circle cx="135" cy="1054" r="10"/></g><g id="lc25"><circle cx="119" cy="1084" r="10"/></g><g id="lc26"><circle cx="173" cy="1102" r="10"/></g><g id="lc27"><circle cx="134" cy="1138" r="10"/></g><g id="lc28"><circle cx="270" cy="1124" r="10"/></g><g id="lc29"><circle cx="73" cy="1181" r="10"/></g><g id="lc30"><circle cx="137" cy="1210" r="10"/></g><g id="lc31"><circle cx="94" cy="1221" r="10"/></g>
<g id="c2a"><circle cx="674" cy="796" r="10"/></g><g id="c2b"><circle cx="716" cy="805" r="10"/></g><g id="c2c"><circle cx="668" cy="841" r="10"/></g><g id="c2d"><circle cx="718" cy="902" r="10"/></g><g id="c2e"><circle cx="790" cy="819" r="10"/></g><g id="c2f"><circle cx="853" cy="782" r="10"/></g><g id="c2g"><circle cx="824" cy="848" r="10"/></g><g id="c2h"><circle cx="791" cy="878" r="10"/></g><g id="c2i"><circle cx="665" cy="964" r="10"/></g><g id="c2j"><circle cx="694" cy="987" r="10"/></g><g id="c2k"><circle cx="745" cy="999" r="10"/></g><g id="c2l"><circle cx="642" cy="1045" r="10"/></g><g id="c2m"><circle cx="827" cy="991" r="10"/></g><g id="c2n"><circle cx="843" cy="1031" r="10"/></g><g id="c2o"><circle cx="801" cy="1051" r="10"/></g><g id="c2p"><circle cx="567" cy="1083" r="10"/></g><g id="c2q"><circle cx="603" cy="1099" r="10"/></g><g id="c2r"><circle cx="554" cy="1128" r="10"/></g><g id="c2s"><circle cx="625" cy="1131" r="10"/></g><g id="c2t"><circle cx="582" cy="1158" r="10"/></g><g id="c2u"><circle cx="507" cy="1211" r="10"/></g><g id="c2v"><circle cx="428" cy="1211" r="10"/></g><g id="c2w"><circle cx="566" cy="1244" r="10"/></g><g id="c2x"><circle cx="486" cy="1289" r="10"/></g>
<g id="cc1"><circle cx="1148" cy="1136" r="10"/></g><g id="cc2"><circle cx="1210" cy="1143" r="10"/></g><g id="cc3"><circle cx="1174" cy="1164" r="10"/></g><g id="cc4"><circle cx="1255" cy="1167" r="10"/></g><g id="cc5"><circle cx="1291" cy="1215" r="10"/></g><g id="cc6"><circle cx="889" cy="1222" r="10"/></g><g id="cc7"><circle cx="849" cy="1236" r="10"/></g><g id="cc8"><circle cx="845" cy="1278" r="10"/></g><g id="cc9"><circle cx="947" cy="1303" r="10"/></g><g id="cc10"><circle cx="1080" cy="1268" r="10"/></g><g id="cc11"><circle cx="1125" cy="1282" r="10"/></g><g id="cc12"><circle cx="1091" cy="1301" r="10"/></g><g id="cc13"><circle cx="1174" cy="1276" r="10"/></g><g id="cc14"><circle cx="1225" cy="1382" r="10"/></g><g id="cc15"><circle cx="1265" cy="1386" r="10"/></g><g id="cc16"><circle cx="1366" cy="1371" r="10"/></g><g id="cc17"><circle cx="1272" cy="1420" r="10"/></g><g id="cc18"><circle cx="1099" cy="1426" r="10"/></g><g id="cc19"><circle cx="1125" cy="1435" r="10"/></g><g id="cc20"><circle cx="1170" cy="1472" r="10"/></g><g id="cc21"><circle cx="898" cy="1428" r="10"/></g><g id="cc22"><circle cx="884" cy="1473" r="10"/></g><g id="cc23"><circle cx="1039" cy="1480" r="10"/></g><g id="cc24"><circle cx="1044" cy="1518" r="10"/></g><g id="cc25"><circle cx="885" cy="1559" r="10"/></g>
<g id="cc26"><circle cx="1066" cy="1479" r="10"/></g><g id="cc27"><circle cx="1083" cy="1473" r="10"/></g><g id="cc28"><circle cx="1100" cy="1470" r="10"/></g><g id="cc29"><circle cx="1119" cy="1474" r="10"/></g><g id="cc30"><circle cx="1128" cy="1489" r="10"/></g><g id="cc31"><circle cx="1070" cy="1501" r="10"/></g><g id="cc32"><circle cx="1105" cy="1507" r="10"/></g><g id="cc33"><circle cx="1086" cy="1514" r="10"/></g><g id="cc34"><circle cx="1132" cy="1507" r="10"/></g><g id="cc35"><circle cx="1142" cy="1524" r="10"/></g><g id="cc36"><circle cx="1117" cy="1529" r="10"/></g><g id="cc37"><circle cx="1072" cy="1539" r="10"/></g><g id="cc38"><circle cx="1100" cy="1547" r="10"/></g>
<g id="cc39"><circle cx="1329" cy="1490" r="10"/></g><g id="cc40"><circle cx="1318" cy="1536" r="10"/></g><g id="cc41"><circle cx="1222" cy="1572" r="10"/></g><g id="cc42"><circle cx="1092" cy="1586" r="10"/></g><g id="cc43"><circle cx="956" cy="1602" r="10"/></g><g id="cc44"><circle cx="1002" cy="1626" r="10"/></g><g id="cc45"><circle cx="1043" cy="1654" r="10"/></g><g id="cc46"><circle cx="990" cy="1706" r="10"/></g><g id="cc47"><circle cx="1030" cy="1725" r="10"/></g><g id="cc48"><circle cx="1144" cy="1708" r="10"/></g><g id="cc49"><circle cx="1181" cy="1717" r="10"/></g><g id="cc50"><circle cx="1105" cy="1736" r="10"/></g><g id="cc51"><circle cx="1143" cy="1748" r="10"/></g>
<g id="dc1"><circle cx="1624" cy="1027" r="10"/></g><g id="dc2"><circle cx="1657" cy="1029" r="10"/></g><g id="dc3"><circle cx="1598" cy="1058" r="10"/></g><g id="dc4"><circle cx="1617" cy="1087" r="10"/></g><g id="dc5"><circle cx="1716" cy="1127" r="10"/></g><g id="dc6"><circle cx="1760" cy="1129" r="10"/></g><g id="dc7"><circle cx="1789" cy="1128" r="10"/></g><g id="dc8"><circle cx="1741" cy="1152" r="10"/></g><g id="dc9"><circle cx="1774" cy="1149" r="10"/></g><g id="dc10"><circle cx="1809" cy="1144" r="10"/></g><g id="dc11"><circle cx="1726" cy="1175" r="10"/></g><g id="dc12"><circle cx="1754" cy="1173" r="10"/></g><g id="dc13"><circle cx="1799" cy="1166" r="10"/></g><g id="dc14"><circle cx="1819" cy="1175" r="10"/></g><g id="dc15"><circle cx="1780" cy="1183" r="10"/></g><g id="dc16"><circle cx="1734" cy="1199" r="10"/></g><g id="dc17"><circle cx="1758" cy="1203" r="10"/></g><g id="dc18"><circle cx="1806" cy="1199" r="10"/></g><g id="dc19"><circle cx="1784" cy="1211" r="10"/></g><g id="dc20"><circle cx="1760" cy="1237" r="10"/></g><g id="dc21"><circle cx="1728" cy="1347" r="10"/></g><g id="dc22"><circle cx="1747" cy="1406" r="10"/></g><g id="dc23"><circle cx="1705" cy="1469" r="10"/></g><g id="dc24"><circle cx="1733" cy="1511" r="10"/></g><g id="dc25"><circle cx="1772" cy="1502" r="10"/></g><g id="dc26"><circle cx="1739" cy="1578" r="10"/></g><g id="dc27"><circle cx="1791" cy="1565" r="10"/></g>
<g id="db1"><circle cx="1973" cy="1781" r="10"/></g><g id="db2"><circle cx="1940" cy="1791" r="10"/></g><g id="db3"><circle cx="1977" cy="1811" r="10"/></g><g id="db4"><circle cx="1922" cy="1821" r="10"/></g><g id="db5"><circle cx="1952" cy="1832" r="10"/></g><g id="db6"><circle cx="1937" cy="1862" r="10"/></g><g id="db7"><circle cx="1970" cy="1865" r="10"/></g><g id="db8"><circle cx="2024" cy="1822" r="10"/></g><g id="db9"><circle cx="2019" cy="1847" r="10"/></g><g id="db10"><circle cx="2086" cy="1806" r="10"/></g><g id="db11"><circle cx="2118" cy="1822" r="10"/></g><g id="db12"><circle cx="2097" cy="1847" r="10"/></g><g id="db13"><circle cx="2073" cy="1883" r="10"/></g><g id="db14"><circle cx="2109" cy="1877" r="10"/></g>
<g id="bc1"><circle cx="1031" cy="2659" r="10"/></g><g id="bc2"><circle cx="982" cy="2691" r="10"/></g><g id="bc3"><circle cx="1216" cy="2683" r="10"/></g><g id="bc4"><circle cx="1169" cy="2748" r="10"/></g><g id="bc5"><circle cx="1048" cy="2788" r="10"/></g><g id="bc6"><circle cx="1120" cy="2801" r="10"/></g><g id="bc7"><circle cx="1177" cy="2793" r="10"/></g><g id="bc8"><circle cx="1022" cy="2826" r="10"/></g><g id="bc9"><circle cx="1056" cy="2852" r="10"/></g><g id="bc10"><circle cx="1259" cy="2792" r="10"/></g><g id="bc11"><circle cx="1317" cy="2692" r="10"/></g><g id="bc12"><circle cx="1285" cy="2710" r="10"/></g><g id="bc13"><circle cx="1348" cy="2717" r="10"/></g><g id="bc14"><circle cx="1309" cy="2745" r="10"/></g><g id="bc15"><circle cx="1347" cy="2755" r="10"/></g><g id="bc16"><circle cx="1264" cy="2862" r="10"/></g><g id="bc17"><circle cx="1309" cy="2857" r="10"/></g><g id="bc18"><circle cx="1288" cy="2895" r="10"/></g><g id="bc19"><circle cx="1328" cy="2899" r="10"/></g><g id="bc20"><circle cx="1396" cy="2967" r="10"/></g><g id="bc21"><circle cx="1238" cy="2916" r="10"/></g><g id="bc22"><circle cx="1182" cy="2948" r="10"/></g><g id="bc23"><circle cx="1152" cy="2971" r="10"/></g><g id="bc24"><circle cx="1226" cy="2989" r="10"/></g><g id="bc25"><circle cx="1189" cy="2997" r="10"/></g>
<g id="yc1"><circle cx="1549" cy="2791" r="10"/></g><g id="yc2"><circle cx="1525" cy="2861" r="10"/></g><g id="yc3"><circle cx="1555" cy="2847" r="10"/></g><g id="yc4"><circle cx="1587" cy="2855" r="10"/></g><g id="yc5"><circle cx="1530" cy="2908" r="10"/></g><g id="yc6"><circle cx="1591" cy="2896" r="10"/></g><g id="yc7"><circle cx="1563" cy="2924" r="10"/></g>
<g id="gc1"><circle cx="1783" cy="2899" r="10"/></g><g id="gc2"><circle cx="1815" cy="2906" r="10"/></g><g id="gc3"><circle cx="1868" cy="2905" r="10"/></g><g id="gc4"><circle cx="1901" cy="2837" r="10"/></g><g id="gc5"><circle cx="1946" cy="2844" r="10"/></g><g id="gc6"><circle cx="1943" cy="2889" r="10"/></g><g id="gc7"><circle cx="1947" cy="2943" r="10"/></g><g id="gc8"><circle cx="1768" cy="2946" r="10"/></g><g id="gc9"><circle cx="1835" cy="2949" r="10"/></g><g id="gc10"><circle cx="1805" cy="2965" r="10"/></g><g id="gc11"><circle cx="1697" cy="2990" r="10"/></g>
<g id="br1"><circle cx="1883" cy="2248" r="10"/></g><g id="br2"><circle cx="1932" cy="2223" r="10"/></g><g id="br3"><circle cx="1938" cy="2303" r="10"/></g><g id="br4"><circle cx="1990" cy="2323" r="10"/></g><g id="br5"><circle cx="2101" cy="2350" r="10"/></g><g id="br6"><circle cx="1993" cy="2423" r="10"/></g><g id="br7"><circle cx="2040" cy="2443" r="10"/></g><g id="br8"><circle cx="1998" cy="2466" r="10"/></g><g id="br9"><circle cx="2032" cy="2481" r="10"/></g><g id="br10"><circle cx="1986" cy="2502" r="10"/></g><g id="br11"><circle cx="2022" cy="2514" r="10"/></g><g id="br12"><circle cx="1911" cy="2491" r="10"/></g><g id="br13"><circle cx="1940" cy="2530" r="10"/></g><g id="br14"><circle cx="1963" cy="2578" r="10"/></g><g id="br15"><circle cx="2088" cy="2513" r="10"/></g><g id="br16"><circle cx="2160" cy="2507" r="10"/></g><g id="br17"><circle cx="2193" cy="2505" r="10"/></g><g id="br18"><circle cx="2169" cy="2541" r="10"/></g><g id="br19"><circle cx="2208" cy="2537" r="10"/></g><g id="br20"><circle cx="2141" cy="2561" r="10"/></g><g id="br21"><circle cx="2195" cy="2572" r="10"/></g><g id="br22"><circle cx="2164" cy="2586" r="10"/></g><g id="br23"><circle cx="1846" cy="2553" r="10"/></g><g id="br24"><circle cx="1873" cy="2581" r="10"/></g><g id="br25"><circle cx="1849" cy="2609" r="10"/></g><g id="br26"><circle cx="1882" cy="2622" r="10"/></g><g id="br27"><circle cx="1779" cy="2586" r="10"/></g><g id="br28"><circle cx="1719" cy="2505" r="10"/></g><g id="br29"><circle cx="1676" cy="2528" r="10"/></g><g id="br30"><circle cx="1715" cy="2549" r="10"/></g><g id="br31"><circle cx="1694" cy="2590" r="10"/></g><g id="br32"><circle cx="1721" cy="2621" r="10"/></g><g id="br33"><circle cx="1677" cy="2641" r="10"/></g><g id="br34"><circle cx="1704" cy="2670" r="10"/></g><g id="br35"><circle cx="1741" cy="2664" r="10"/></g>
<g id="bl1"><circle cx="485" cy="1957" r="10"/></g><g id="bl2"><circle cx="427" cy="1978" r="10"/></g><g id="bl3"><circle cx="462" cy="1992" r="10"/></g><g id="bl4"><circle cx="512" cy="2103" r="10"/></g><g id="bl5"><circle cx="382" cy="2063" r="10"/></g><g id="bl6"><circle cx="412" cy="2076" r="10"/></g><g id="bl7"><circle cx="364" cy="2093" r="10"/></g><g id="bl8"><circle cx="415" cy="2112" r="10"/></g><g id="bl9"><circle cx="369" cy="2126" r="10"/></g><g id="bl10"><circle cx="398" cy="2142" r="10"/></g><g id="bl11"><circle cx="566" cy="2040" r="10"/></g><g id="bl12"><circle cx="592" cy="2033" r="10"/></g><g id="bl13"><circle cx="621" cy="2040" r="10"/></g><g id="bl14"><circle cx="555" cy="2065" r="10"/></g><g id="bl15"><circle cx="613" cy="2064" r="10"/></g><g id="bl16"><circle cx="588" cy="2076" r="10"/></g><g id="bl17"><circle cx="628" cy="2083" r="10"/></g><g id="bl18"><circle cx="567" cy="2094" r="10"/></g><g id="bl19"><circle cx="591" cy="2137" r="10"/></g><g id="bl20"><circle cx="614" cy="2132" r="10"/></g><g id="bl21"><circle cx="570" cy="2205" r="10"/></g><g id="bl22"><circle cx="605" cy="2198" r="10"/></g><g id="bl23"><circle cx="660" cy="2309" r="10"/></g><g id="bl24"><circle cx="722" cy="2215" r="10"/></g><g id="bl25"><circle cx="763" cy="2208" r="10"/></g>
<g id="bl26"><circle cx="417" cy="2338" r="10"/></g><g id="bl27"><circle cx="386" cy="2354" r="10"/></g><g id="bl28"><circle cx="393" cy="2389" r="10"/></g><g id="bl29"><circle cx="491" cy="2376" r="10"/></g><g id="bl30"><circle cx="495" cy="2396" r="10"/></g><g id="bl31"><circle cx="554" cy="2353" r="10"/></g><g id="bl32"><circle cx="578" cy="2377" r="10"/></g><g id="bl33"><circle cx="551" cy="2399" r="10"/></g><g id="bl34"><circle cx="416" cy="2433" r="10"/></g><g id="bl35"><circle cx="483" cy="2454" r="10"/></g><g id="bl36"><circle cx="432" cy="2466" r="10"/></g><g id="bl37"><circle cx="575" cy="2462" r="10"/></g>
<g id="bl38"><circle cx="780" cy="2329" r="10"/></g><g id="bl39"><circle cx="754" cy="2343" r="10"/></g><g id="bl40"><circle cx="797" cy="2349" r="10"/></g><g id="bl41"><circle cx="767" cy="2372" r="10"/></g><g id="bl42"><circle cx="795" cy="2378" r="10"/></g><g id="bl43"><circle cx="742" cy="2383" r="10"/></g><g id="bl44"><circle cx="779" cy="2413" r="10"/></g><g id="bl45"><circle cx="741" cy="2443" r="10"/></g><g id="bl46"><circle cx="709" cy="2457" r="10"/></g><g id="bl47"><circle cx="874" cy="2379" r="10"/></g><g id="bl48"><circle cx="837" cy="2533" r="10"/></g>
<g id="bl49"><circle cx="585" cy="2547" r="10"/></g><g id="bl50"><circle cx="647" cy="2553" r="10"/></g><g id="bl51"><circle cx="717" cy="2546" r="10"/></g><g id="bl52"><circle cx="556" cy="2570" r="10"/></g><g id="bl53"><circle cx="653" cy="2573" r="10"/></g><g id="bl54"><circle cx="732" cy="2577" r="10"/></g><g id="bl55"><circle cx="585" cy="2589" r="10"/></g><g id="bl56"><circle cx="631" cy="2659" r="10"/></g><g id="bl57"><circle cx="676" cy="2657" r="10"/></g>
<g id="bl58"><circle cx="972" cy="2296" r="10"/></g><g id="bl59"><circle cx="1001" cy="2321" r="10"/></g><g id="bl60"><circle cx="966" cy="2337" r="10"/></g><g id="bl61"><circle cx="989" cy="2367" r="10"/></g><g id="bl62"><circle cx="1052" cy="2355" r="10"/></g><g id="bl63"><circle cx="1142" cy="2353" r="10"/></g><g id="bl64"><circle cx="1146" cy="2405" r="10"/></g><g id="bl65"><circle cx="1207" cy="2355" r="10"/></g><g id="bl66"><circle cx="943" cy="2441" r="10"/></g><g id="bl67"><circle cx="920" cy="2483" r="10"/></g><g id="bl68"><circle cx="957" cy="2490" r="10"/></g><g id="bl69"><circle cx="981" cy="2458" r="10"/></g>
<g id="bl70"><circle cx="980" cy="2003" r="10"/></g><g id="bl71"><circle cx="1058" cy="2041" r="10"/></g><g id="bl72"><circle cx="1115" cy="2036" r="10"/></g><g id="bl73"><circle cx="1085" cy="2084" r="10"/></g><g id="bl74"><circle cx="1150" cy="2101" r="10"/></g><g id="bl75"><circle cx="1217" cy="2120" r="10"/></g><g id="bl76"><circle cx="1246" cy="2187" r="10"/></g><g id="bl77"><circle cx="1286" cy="2229" r="10"/></g><g id="bl78"><circle cx="1328" cy="2212" r="10"/></g><g id="bl79"><circle cx="1305" cy="2303" r="10"/></g><g id="bl80"><circle cx="1332" cy="2317" r="10"/></g><g id="bl81"><circle cx="1320" cy="2355" r="10"/></g><g id="bl82"><circle cx="1376" cy="2380" r="10"/></g><g id="bl83"><circle cx="1312" cy="2403" r="10"/></g><g id="bl84"><circle cx="1343" cy="2422" r="10"/></g>
</g>
<g id="nodes-small" transform="scale(1.91327)">
<g id="s1a"><circle cx="502" cy="46" r="5.23"/></g><g id="s1b"><circle cx="535" cy="46" r="5.23"/></g><g id="s1c"><circle cx="512" cy="71" r="5.23"/></g><g id="s1d"><circle cx="568" cy="35" r="5.23"/></g>
<g id="s2a"><circle cx="645" cy="20" r="5.23"/></g><g id="s2b"><circle cx="670" cy="14" r="5.23"/></g><g id="s2c"><circle cx="676" cy="38" r="5.23"/></g><g id="s2d"><circle cx="651" cy="44" r="5.23"/></g>
<g id="s3a"><circle cx="750" cy="16" r="5.23"/></g><g id="s3b"><circle cx="769" cy="2" r="5.23"/></g><g id="s3c"><circle cx="788" cy="17" r="5.23"/></g><g id="s3d"><circle cx="768" cy="34" r="5.23"/></g>
<g id="s4a"><circle cx="904" cy="17" r="5.23"/></g><g id="s4b"><circle cx="919" cy="12" r="5.23"/></g><g id="s4c"><circle cx="935" cy="22" r="5.23"/></g><g id="s4d"><circle cx="903" cy="38" r="5.23"/></g><g id="s4e"><circle cx="919" cy="50" r="5.23"/></g><g id="s4f"><circle cx="936" cy="40" r="5.23"/></g>
<g id="s5a"><circle cx="1033" cy="40" r="5.23"/></g><g id="s5b"><circle cx="1058" cy="53" r="5.23"/></g>
<g id="s6a"><circle cx="1102" cy="88" r="5.23"/></g><g id="s6b"><circle cx="1130" cy="85" r="5.23"/></g><g id="s6c"><circle cx="1118" cy="112" r="5.23"/></g>
<g id="s7a"><circle cx="987" cy="86" r="5.23"/></g><g id="s7b"><circle cx="1008" cy="101" r="5.23"/></g><g id="s7c"><circle cx="980" cy="115" r="5.23"/></g>
<g id="s8a"><circle cx="561" cy="107" r="5.23"/></g><g id="s8b"><circle cx="592" cy="111" r="5.23"/></g><g id="s8c"><circle cx="616" cy="121" r="5.23"/></g><g id="s8d"><circle cx="537" cy="129" r="5.23"/></g><g id="s8e"><circle cx="574" cy="137" r="5.23"/></g><g id="s8f"><circle cx="606" cy="143" r="5.23"/></g><g id="s8g"><circle cx="548" cy="171" r="5.23"/></g>
<g id="s9a"><circle cx="690" cy="111" r="5.23"/></g><g id="s9b"><circle cx="716" cy="103" r="5.23"/></g><g id="s9c"><circle cx="722" cy="129" r="5.23"/></g><g id="s9d"><circle cx="699" cy="136" r="5.23"/></g>
<g id="s10a"><circle cx="1048" cy="150" r="5.23"/></g><g id="s10b"><circle cx="1029" cy="164" r="5.23"/></g><g id="s10c"><circle cx="1066" cy="165" r="5.23"/></g><g id="s10d"><circle cx="1035" cy="186" r="5.23"/></g><g id="s10e"><circle cx="1060" cy="186" r="5.23"/></g>
<g id="s11a"><circle cx="1190" cy="122" r="5.23"/></g><g id="s11b"><circle cx="1218" cy="130" r="5.23"/></g><g id="s11c"><circle cx="1197" cy="157" r="5.23"/></g><g id="s11d"><circle cx="1173" cy="176" r="5.23"/></g><g id="s11e"><circle cx="1210" cy="184" r="5.23"/></g><g id="s11f"><circle cx="1186" cy="197" r="5.23"/></g><g id="s11g"><circle cx="1152" cy="201" r="5.23"/></g>
<g id="s12a"><circle cx="1285" cy="217" r="5.23"/></g><g id="s12b"><circle cx="1303" cy="218" r="5.23"/></g><g id="s12c"><circle cx="1274" cy="234" r="5.23"/></g><g id="s12d"><circle cx="1312" cy="238" r="5.23"/></g><g id="s12e"><circle cx="1282" cy="252" r="5.23"/></g><g id="s12f"><circle cx="1300" cy="253" r="5.23"/></g>
<g id="s13a"><circle cx="614" cy="216" r="5.23"/></g><g id="s13b"><circle cx="592" cy="233" r="5.23"/></g><g id="s13c"><circle cx="624" cy="243" r="5.23"/></g><g id="s13d"><circle cx="657" cy="228" r="5.23"/></g><g id="s13e"><circle cx="610" cy="257" r="5.23"/></g><g id="s13f"><circle cx="627" cy="257" r="5.23"/></g><g id="s13g"><circle cx="661" cy="254" r="5.23"/></g><g id="s13h"><circle cx="598" cy="275" r="5.23"/></g><g id="s13i"><circle cx="622" cy="288" r="5.23"/></g>
<g id="s14a"><circle cx="726" cy="298" r="5.23"/></g><g id="s14b"><circle cx="747" cy="307" r="5.23"/></g><g id="s14c"><circle cx="711" cy="318" r="5.23"/></g><g id="s14d"><circle cx="745" cy="328" r="5.23"/></g><g id="s14e"><circle cx="724" cy="336" r="5.23"/></g>
<g id="s15a"><circle cx="517" cy="327" r="5.23"/></g><g id="s15b"><circle cx="538" cy="334" r="5.23"/></g><g id="s15c"><circle cx="504" cy="345" r="5.23"/></g><g id="s15d"><circle cx="543" cy="353" r="5.23"/></g><g id="s15e"><circle cx="517" cy="363" r="5.23"/></g>
<g id="s16a"><circle cx="837" cy="354" r="5.23"/></g><g id="s16b"><circle cx="855" cy="348" r="5.23"/></g><g id="s16c"><circle cx="829" cy="372" r="5.23"/></g><g id="s16d"><circle cx="849" cy="371" r="5.23"/></g><g id="s16e"><circle cx="871" cy="364" r="5.23"/></g><g id="s16f"><circle cx="866" cy="385" r="5.23"/></g><g id="s16g"><circle cx="845" cy="393" r="5.23"/></g>
<g id="s17a"><circle cx="668" cy="421" r="5.23"/></g><g id="s17b"><circle cx="688" cy="406" r="5.23"/></g><g id="s17c"><circle cx="705" cy="426" r="5.23"/></g><g id="s17d"><circle cx="684" cy="443" r="5.23"/></g>
<g id="s18a"><circle cx="572" cy="432" r="5.23"/></g><g id="s18b"><circle cx="594" cy="437" r="5.23"/></g><g id="s18c"><circle cx="560" cy="452" r="5.23"/></g><g id="s18d"><circle cx="596" cy="460" r="5.23"/></g><g id="s18e"><circle cx="576" cy="469" r="5.23"/></g>
<g id="s19a"><circle cx="948" cy="192" r="5.23"/></g><g id="s19b"><circle cx="935" cy="226" r="5.23"/></g><g id="s19c"><circle cx="910" cy="240" r="5.23"/></g><g id="s19d"><circle cx="918" cy="264" r="5.23"/></g><g id="s19e"><circle cx="941" cy="254" r="5.23"/></g>
<g id="s20a"><circle cx="1155" cy="292" r="5.23"/></g><g id="s20b"><circle cx="1174" cy="275" r="5.23"/></g><g id="s20c"><circle cx="1189" cy="296" r="5.23"/></g><g id="s20d"><circle cx="1167" cy="314" r="5.23"/></g>
<g id="s21a"><circle cx="1063" cy="260" r="5.23"/></g><g id="s21b"><circle cx="1087" cy="262" r="5.23"/></g><g id="s21c"><circle cx="1052" cy="294" r="5.23"/></g><g id="s21d"><circle cx="1087" cy="288" r="5.23"/></g><g id="s21e"><circle cx="1010" cy="303" r="5.23"/></g><g id="s21f"><circle cx="1031" cy="313" r="5.23"/></g><g id="s21g"><circle cx="1001" cy="337" r="5.23"/></g><g id="s21h"><circle cx="1034" cy="338" r="5.23"/></g><g id="s21i"><circle cx="1018" cy="372" r="5.23"/></g><g id="s21j"><circle cx="1047" cy="378" r="5.23"/></g><g id="s21k"><circle cx="1033" cy="408" r="5.23"/></g>
<g id="s22a"><circle cx="1254" cy="333" r="5.23"/></g><g id="s22b"><circle cx="1221" cy="346" r="5.23"/></g><g id="s22c"><circle cx="1241" cy="365" r="5.23"/></g><g id="s22d"><circle cx="1210" cy="377" r="5.23"/></g>
<g id="s23a"><circle cx="1368" cy="310" r="5.23"/></g><g id="s23b"><circle cx="1393" cy="307" r="5.23"/></g><g id="s23c"><circle cx="1378" cy="323" r="5.23"/></g><g id="s23d"><circle cx="1407" cy="327" r="5.23"/></g><g id="s23e"><circle cx="1368" cy="333" r="5.23"/></g><g id="s23f"><circle cx="1400" cy="342" r="5.23"/></g><g id="s23g"><circle cx="1386" cy="352" r="5.23"/></g><g id="s23h"><circle cx="1430" cy="354" r="5.23"/></g><g id="s23i"><circle cx="1413" cy="371" r="5.23"/></g>
<g id="s24a"><circle cx="1290" cy="411" r="5.23"/></g><g id="s24b"><circle cx="1312" cy="400" r="5.23"/></g><g id="s24c"><circle cx="1296" cy="433" r="5.23"/></g><g id="s24d"><circle cx="1332" cy="430" r="5.23"/></g><g id="s24e"><circle cx="1362" cy="428" r="5.23"/></g><g id="s24f"><circle cx="1378" cy="440" r="5.23"/></g><g id="s24g"><circle cx="1346" cy="457" r="5.23"/></g><g id="s24h"><circle cx="1367" cy="460" r="5.23"/></g>
<g id="s25a"><circle cx="960" cy="420" r="5.23"/></g><g id="s25b"><circle cx="947" cy="445" r="5.23"/></g><g id="s25c"><circle cx="979" cy="447" r="5.23"/></g>
<g id="s26a"><circle cx="1112" cy="420" r="5.23"/></g><g id="s26b"><circle cx="1138" cy="418" r="5.23"/></g><g id="s26c"><circle cx="1114" cy="447" r="5.23"/></g><g id="s26d"><circle cx="1139" cy="444" r="5.23"/></g>
<g id="s27a"><circle cx="1215" cy="455" r="5.23"/></g><g id="s27b"><circle cx="1235" cy="478" r="5.23"/></g>
<g id="s28a"><circle cx="1067" cy="510" r="5.23"/></g><g id="s28b"><circle cx="1091" cy="527" r="5.23"/></g>
<g id="s29a"><circle cx="1176" cy="511" r="5.23"/></g><g id="s29b"><circle cx="1200" cy="531" r="5.23"/></g><g id="s29c"><circle cx="1170" cy="539" r="5.23"/></g>
<g id="s30a"><circle cx="735" cy="503" r="5.23"/></g><g id="s30b"><circle cx="756" cy="480" r="5.23"/></g>
<g id="s31a"><circle cx="1120" cy="600" r="5.23"/></g><g id="s31b"><circle cx="1096" cy="615" r="5.23"/></g><g id="s31c"><circle cx="1121" cy="631" r="5.23"/></g>
<g id="s32a"><circle cx="1218" cy="609" r="5.23"/></g><g id="s32b"><circle cx="1196" cy="620" r="5.23"/></g><g id="s32c"><circle cx="1228" cy="634" r="5.23"/></g><g id="s32d"><circle cx="1204" cy="644" r="5.23"/></g>
<g id="s33a"><circle cx="1305" cy="666" r="5.23"/></g><g id="s33b"><circle cx="1337" cy="668" r="5.23"/></g><g id="s33c"><circle cx="1320" cy="691" r="5.23"/></g>
<g id="s34a"><circle cx="1418" cy="655" r="5.23"/></g><g id="s34b"><circle cx="1444" cy="661" r="5.23"/></g><g id="s34c"><circle cx="1415" cy="681" r="5.23"/></g><g id="s34d"><circle cx="1440" cy="686" r="5.23"/></g>
<g id="s35a"><circle cx="1520" cy="665" r="5.23"/></g><g id="s35b"><circle cx="1546" cy="663" r="5.23"/></g><g id="s35c"><circle cx="1523" cy="692" r="5.23"/></g><g id="s35d"><circle cx="1550" cy="689" r="5.23"/></g>
<g id="s36a"><circle cx="1319" cy="545" r="5.23"/></g><g id="s36b"><circle cx="1337" cy="540" r="5.23"/></g><g id="s36c"><circle cx="1351" cy="553" r="5.23"/></g><g id="s36d"><circle cx="1311" cy="567" r="5.23"/></g><g id="s36e"><circle cx="1330" cy="567" r="5.23"/></g><g id="s36f"><circle cx="1346" cy="570" r="5.23"/></g><g id="s36g"><circle cx="1320" cy="600" r="5.23"/></g>
<g id="s37a"><circle cx="1463" cy="515" r="5.23"/></g><g id="s37b"><circle cx="1475" cy="503" r="5.23"/></g><g id="s37c"><circle cx="1488" cy="504" r="5.23"/></g><g id="s37d"><circle cx="1498" cy="516" r="5.23"/></g><g id="s37e"><circle cx="1458" cy="532" r="5.23"/></g><g id="s37f"><circle cx="1475" cy="531" r="5.23"/></g><g id="s37g"><circle cx="1493" cy="530" r="5.23"/></g><g id="s37h"><circle cx="1479" cy="549" r="5.23"/></g><g id="s37i"><circle cx="1493" cy="544" r="5.23"/></g><g id="s37j"><circle cx="1523" cy="565" r="5.23"/></g><g id="s37k"><circle cx="1470" cy="585" r="5.23"/></g><g id="s37l"><circle cx="1507" cy="583" r="5.23"/></g>
<g id="s38a"><circle cx="1256" cy="730" r="5.23"/></g><g id="s38b"><circle cx="1285" cy="738" r="5.23"/></g><g id="s38c"><circle cx="1268" cy="759" r="5.23"/></g>
<g id="s39a"><circle cx="1067" cy="707" r="5.23"/></g><g id="s39b"><circle cx="1097" cy="711" r="5.23"/></g><g id="s39c"><circle cx="1078" cy="736" r="5.23"/></g>
<g id="s40a"><circle cx="1155" cy="751" r="5.23"/></g><g id="s40b"><circle cx="1182" cy="746" r="5.23"/></g><g id="s40c"><circle cx="1174" cy="789" r="5.23"/></g><g id="s40d"><circle cx="1159" cy="816" r="5.23"/></g><g id="s40e"><circle cx="1186" cy="810" r="5.23"/></g><g id="s40f"><circle cx="1170" cy="833" r="5.23"/></g><g id="s40g"><circle cx="1203" cy="832" r="5.23"/></g><g id="s40h"><circle cx="1219" cy="868" r="5.23"/></g><g id="s40i"><circle cx="1241" cy="840" r="5.23"/></g><g id="s40j"><circle cx="1243" cy="860" r="5.23"/></g>
<g id="s41a"><circle cx="1026" cy="807" r="5.23"/></g><g id="s41b"><circle cx="1055" cy="809" r="5.23"/></g>
<g id="s42a"><circle cx="1365" cy="776" r="5.23"/></g><g id="s42b"><circle cx="1388" cy="765" r="5.23"/></g><g id="s42c"><circle cx="1383" cy="790" r="5.23"/></g><g id="s42d"><circle cx="1405" cy="785" r="5.23"/></g><g id="s42e"><circle cx="1362" cy="802" r="5.23"/></g><g id="s42f"><circle cx="1378" cy="805" r="5.23"/></g><g id="s42g"><circle cx="1400" cy="805" r="5.23"/></g><g id="s42h"><circle cx="1428" cy="812" r="5.23"/></g><g id="s42i"><circle cx="1448" cy="781" r="5.23"/></g><g id="s42j"><circle cx="1373" cy="842" r="5.23"/></g><g id="s42k"><circle cx="1398" cy="846" r="5.23"/></g>
<g id="s43a"><circle cx="1520" cy="750" r="5.23"/></g><g id="s43b"><circle cx="1548" cy="754" r="5.23"/></g><g id="s43c"><circle cx="1530" cy="776" r="5.23"/></g>
<g id="s44a"><circle cx="1540" cy="830" r="5.23"/></g><g id="s44b"><circle cx="1565" cy="822" r="5.23"/></g><g id="s44c"><circle cx="1562" cy="851" r="5.23"/></g>
<g id="s45a"><circle cx="1471" cy="906" r="5.23"/></g><g id="s45b"><circle cx="1485" cy="893" r="5.23"/></g><g id="s45c"><circle cx="1502" cy="899" r="5.23"/></g><g id="s45d"><circle cx="1507" cy="918" r="5.23"/></g><g id="s45e"><circle cx="1493" cy="928" r="5.23"/></g><g id="s45f"><circle cx="1472" cy="927" r="5.23"/></g><g id="s45g"><circle cx="1489" cy="913" r="5.23"/></g>
<g id="s46a"><circle cx="1358" cy="917" r="5.23"/></g><g id="s46b"><circle cx="1380" cy="938" r="5.23"/></g>
<g id="s47a"><circle cx="1258" cy="947" r="5.23"/></g><g id="s47b"><circle cx="1282" cy="942" r="5.23"/></g><g id="s47c"><circle cx="1267" cy="966" r="5.23"/></g><g id="s47d"><circle cx="1298" cy="960" r="5.23"/></g><g id="s47e"><circle cx="1259" cy="984" r="5.23"/></g><g id="s47f"><circle cx="1225" cy="998" r="5.23"/></g><g id="s47g"><circle cx="1234" cy="1021" r="5.23"/></g><g id="s47h"><circle cx="1255" cy="1020" r="5.23"/></g>
<g id="s48a"><circle cx="1367" cy="1009" r="5.23"/></g><g id="s48b"><circle cx="1346" cy="1033" r="5.23"/></g><g id="s48c"><circle cx="1375" cy="1037" r="5.23"/></g>
<g id="s49a"><circle cx="1456" cy="1007" r="5.23"/></g><g id="s49b"><circle cx="1436" cy="1021" r="5.23"/></g><g id="s49c"><circle cx="1470" cy="1027" r="5.23"/></g><g id="s49d"><circle cx="1449" cy="1044" r="5.23"/></g>
<g id="s50a"><circle cx="1552" cy="976" r="5.23"/></g><g id="s50b"><circle cx="1538" cy="1001" r="5.23"/></g>
<g id="s51a"><circle cx="1505" cy="1090" r="5.23"/></g><g id="s51b"><circle cx="1518" cy="1066" r="5.23"/></g>
<g id="s52a"><circle cx="1238" cy="1093" r="5.23"/></g><g id="s52b"><circle cx="1272" cy="1091" r="5.23"/></g><g id="s52c"><circle cx="1256" cy="1115" r="5.23"/></g>
<g id="s53a"><circle cx="1118" cy="1087" r="5.23"/></g><g id="s53b"><circle cx="1101" cy="1104" r="5.23"/></g><g id="s53c"><circle cx="1138" cy="1097" r="5.23"/></g><g id="s53d"><circle cx="1112" cy="1122" r="5.23"/></g><g id="s53e"><circle cx="1135" cy="1120" r="5.23"/></g>
<g id="s54a"><circle cx="1378" cy="1124" r="5.23"/></g><g id="s54b"><circle cx="1398" cy="1124" r="5.23"/></g><g id="s54c"><circle cx="1370" cy="1140" r="5.23"/></g><g id="s54d"><circle cx="1389" cy="1137" r="5.23"/></g><g id="s54e"><circle cx="1410" cy="1143" r="5.23"/></g><g id="s54f"><circle cx="1387" cy="1153" r="5.23"/></g><g id="s54g"><circle cx="1424" cy="1153" r="5.23"/></g><g id="s54h"><circle cx="1400" cy="1163" r="5.23"/></g><g id="s54i"><circle cx="1380" cy="1172" r="5.23"/></g><g id="s54j"><circle cx="1435" cy="1166" r="5.23"/></g><g id="s54k"><circle cx="1473" cy="1149" r="5.23"/></g><g id="s54l"><circle cx="1417" cy="1185" r="5.23"/></g><g id="s54m"><circle cx="1448" cy="1204" r="5.23"/></g><g id="s54n"><circle cx="1344" cy="1180" r="5.23"/></g><g id="s54o"><circle cx="1335" cy="1198" r="5.23"/></g><g id="s54p"><circle cx="1351" cy="1214" r="5.23"/></g><g id="s54q"><circle cx="1369" cy="1208" r="5.23"/></g>
<g id="s55a"><circle cx="1212" cy="1181" r="5.23"/></g><g id="s55b"><circle cx="1232" cy="1181" r="5.23"/></g><g id="s55c"><circle cx="1201" cy="1201" r="5.23"/></g><g id="s55d"><circle cx="1240" cy="1205" r="5.23"/></g><g id="s55e"><circle cx="1222" cy="1217" r="5.23"/></g><g id="s55f"><circle cx="1248" cy="1240" r="5.23"/></g>
<g id="s56a"><circle cx="1343" cy="1293" r="5.23"/></g><g id="s56b"><circle cx="1328" cy="1314" r="5.23"/></g><g id="s56c"><circle cx="1360" cy="1314" r="5.23"/></g><g id="s56d"><circle cx="1334" cy="1328" r="5.23"/></g><g id="s56e"><circle cx="1354" cy="1329" r="5.23"/></g>
<g id="s57a"><circle cx="1263" cy="1318" r="5.23"/></g><g id="s57b"><circle cx="1247" cy="1340" r="5.23"/></g><g id="s57c"><circle cx="1275" cy="1348" r="5.23"/></g>
<g id="s58a"><circle cx="1220" cy="1408" r="5.23"/></g><g id="s58b"><circle cx="1246" cy="1408" r="5.23"/></g><g id="s58c"><circle cx="1219" cy="1433" r="5.23"/></g><g id="s58d"><circle cx="1244" cy="1433" r="5.23"/></g>
<g id="s59a"><circle cx="1121" cy="1458" r="5.23"/></g><g id="s59b"><circle cx="1140" cy="1463" r="5.23"/></g><g id="s59c"><circle cx="1105" cy="1476" r="5.23"/></g><g id="s59d"><circle cx="1141" cy="1486" r="5.23"/></g><g id="s59e"><circle cx="1120" cy="1494" r="5.23"/></g>
<g id="s60a"><circle cx="430" cy="1458" r="5.23"/></g><g id="s60b"><circle cx="415" cy="1475" r="5.23"/></g><g id="s60c"><circle cx="450" cy="1467" r="5.23"/></g><g id="s60d"><circle cx="430" cy="1493" r="5.23"/></g><g id="s60e"><circle cx="450" cy="1488" r="5.23"/></g>
<g id="s61a"><circle cx="860" cy="1187" r="5.23"/></g><g id="s61b"><circle cx="890" cy="1199" r="5.23"/></g>
<g id="s62a"><circle cx="808" cy="1216" r="5.23"/></g><g id="s62b"><circle cx="815" cy="1243" r="5.23"/></g>
<g id="s63a"><circle cx="753" cy="1335" r="5.23"/></g><g id="s63b"><circle cx="778" cy="1320" r="5.23"/></g><g id="s63c"><circle cx="778" cy="1352" r="5.23"/></g>
<g id="s64a"><circle cx="800" cy="1080" r="5.23"/></g><g id="s64b"><circle cx="823" cy="1093" r="5.23"/></g><g id="s64c"><circle cx="788" cy="1105" r="5.23"/></g><g id="s64d"><circle cx="812" cy="1118" r="5.23"/></g>
<g id="s65a"><circle cx="922" cy="1060" r="5.23"/></g><g id="s65b"><circle cx="906" cy="1070" r="5.23"/></g><g id="s65c"><circle cx="940" cy="1072" r="5.23"/></g><g id="s65d"><circle cx="905" cy="1087" r="5.23"/></g><g id="s65e"><circle cx="940" cy="1088" r="5.23"/></g><g id="s65f"><circle cx="921" cy="1103" r="5.23"/></g><g id="s65g"><circle cx="922" cy="1080" r="5.23"/></g>
<g id="s66a"><circle cx="877" cy="931" r="5.23"/></g><g id="s66b"><circle cx="851" cy="947" r="5.23"/></g><g id="s66c"><circle cx="876" cy="962" r="5.23"/></g>
<g id="s67a"><circle cx="808" cy="887" r="5.23"/></g><g id="s67b"><circle cx="827" cy="865" r="5.23"/></g>
<g id="s68a"><circle cx="757" cy="974" r="5.23"/></g><g id="s68b"><circle cx="777" cy="996" r="5.23"/></g><g id="s68c"><circle cx="740" cy="1009" r="5.23"/></g><g id="s68d"><circle cx="704" cy="1024" r="5.23"/></g><g id="s68e"><circle cx="668" cy="1028" r="5.23"/></g><g id="s68f"><circle cx="728" cy="1043" r="5.23"/></g>
<g id="s69a"><circle cx="60" cy="1071" r="5.23"/></g><g id="s69b"><circle cx="73" cy="1103" r="5.23"/></g><g id="s69c"><circle cx="97" cy="1119" r="5.23"/></g><g id="s69d"><circle cx="79" cy="1138" r="5.23"/></g>
<g id="s70a"><circle cx="82" cy="985" r="5.23"/></g><g id="s70b"><circle cx="106" cy="993" r="5.23"/></g><g id="s70c"><circle cx="72" cy="1010" r="5.23"/></g><g id="s70d"><circle cx="97" cy="1018" r="5.23"/></g>
<g id="s71a"><circle cx="18" cy="932" r="5.23"/></g><g id="s71b"><circle cx="46" cy="939" r="5.23"/></g><g id="s71c"><circle cx="27" cy="962" r="5.23"/></g>
<g id="s72a"><circle cx="125" cy="924" r="5.23"/></g><g id="s72b"><circle cx="148" cy="941" r="5.23"/></g>
<g id="s73a"><circle cx="227" cy="886" r="5.23"/></g><g id="s73b"><circle cx="210" cy="905" r="5.23"/></g><g id="s73c"><circle cx="247" cy="904" r="5.23"/></g><g id="s73d"><circle cx="228" cy="922" r="5.23"/></g>
<g id="s74a"><circle cx="382" cy="926" r="5.23"/></g><g id="s74b"><circle cx="362" cy="944" r="5.23"/></g><g id="s74c"><circle cx="392" cy="955" r="5.23"/></g>
<g id="s75a"><circle cx="329" cy="856" r="5.23"/></g><g id="s75b"><circle cx="316" cy="882" r="5.23"/></g>
<g id="s76a"><circle cx="121" cy="829" r="5.23"/></g><g id="s76b"><circle cx="147" cy="825" r="5.23"/></g><g id="s76c"><circle cx="126" cy="855" r="5.23"/></g><g id="s76d"><circle cx="151" cy="851" r="5.23"/></g>
<g id="s77a"><circle cx="29" cy="845" r="5.23"/></g><g id="s77b"><circle cx="54" cy="847" r="5.23"/></g><g id="s77c"><circle cx="26" cy="868" r="5.23"/></g><g id="s77d"><circle cx="51" cy="873" r="5.23"/></g>
<g id="s78a"><circle cx="0" cy="769" r="5.23"/></g><g id="s78b"><circle cx="11" cy="795" r="5.23"/></g>
<g id="s79a"><circle cx="20" cy="713" r="5.23"/></g><g id="s79b"><circle cx="46" cy="704" r="5.23"/></g><g id="s79c"><circle cx="47" cy="734" r="5.23"/></g><g id="s79d"><circle cx="67" cy="763" r="5.23"/></g>
<g id="s80a"><circle cx="120" cy="693" r="5.23"/></g><g id="s80b"><circle cx="153" cy="703" r="5.23"/></g><g id="s80c"><circle cx="143" cy="722" r="5.23"/></g><g id="s80d"><circle cx="166" cy="725" r="5.23"/></g><g id="s80e"><circle cx="181" cy="710" r="5.23"/></g><g id="s80f"><circle cx="158" cy="745" r="5.23"/></g><g id="s80g"><circle cx="182" cy="737" r="5.23"/></g>
<g id="s81a"><circle cx="299" cy="753" r="5.23"/></g><g id="s81b"><circle cx="326" cy="745" r="5.23"/></g><g id="s81c"><circle cx="321" cy="775" r="5.23"/></g>
<g id="s82a"><circle cx="247" cy="791" r="5.23"/></g><g id="s82b"><circle cx="231" cy="815" r="5.23"/></g><g id="s82c"><circle cx="262" cy="819" r="5.23"/></g>
</g>
</g>
</svg>
